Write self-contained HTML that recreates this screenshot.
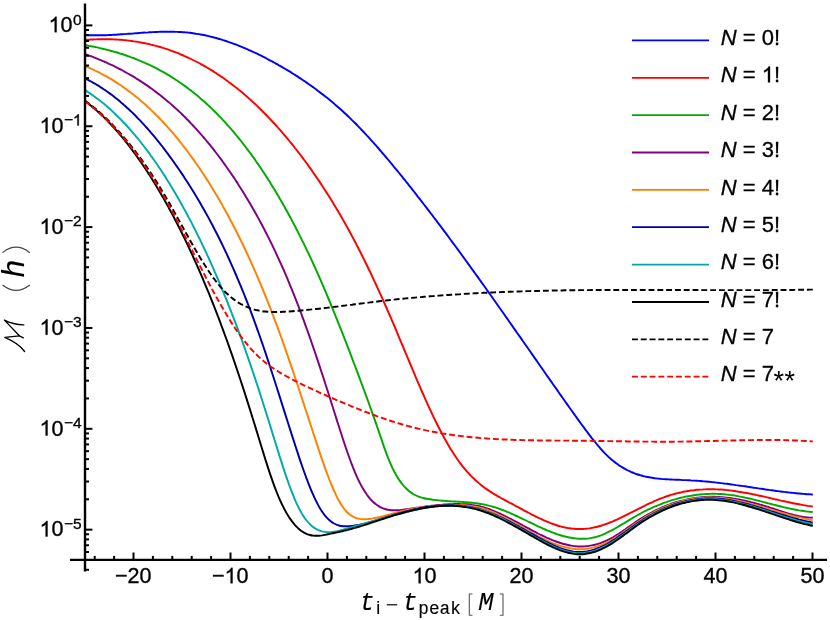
<!DOCTYPE html>
<html><head><meta charset="utf-8"><title>Mismatch</title>
<style>html,body{margin:0;padding:0;background:#fff;}svg{display:block;will-change:transform;}</style></head>
<body>
<svg width="830" height="620" viewBox="0 0 830 620">
<rect width="830" height="620" fill="#fff"/>
<g fill="none" stroke-width="1.95" stroke-linejoin="round">
<path d="M85.0,35.1C85.5,35.1 87.0,35.2 88.0,35.2C89.0,35.2 90.0,35.3 91.0,35.3C92.0,35.3 93.0,35.3 94.0,35.3C95.0,35.3 96.0,35.3 97.0,35.3C98.0,35.3 99.0,35.3 100.0,35.3C101.0,35.3 102.0,35.3 103.0,35.3C104.0,35.2 105.0,35.2 106.0,35.2C107.0,35.1 108.0,35.1 109.0,35.0C110.0,35.0 111.0,34.9 112.0,34.9C113.0,34.8 114.0,34.8 115.0,34.7C116.0,34.7 117.0,34.6 118.0,34.5C119.0,34.5 120.0,34.4 121.0,34.3C122.0,34.3 123.0,34.2 124.0,34.1C125.0,34.1 126.0,34.0 127.0,33.9C128.0,33.8 129.0,33.8 130.0,33.7C131.0,33.6 132.0,33.5 133.0,33.5C134.0,33.4 135.0,33.3 136.0,33.2C137.0,33.2 138.0,33.1 139.0,33.0C140.0,32.9 141.0,32.9 142.0,32.8C143.0,32.7 144.0,32.6 145.0,32.6C146.0,32.5 147.0,32.4 148.0,32.4C149.0,32.3 150.0,32.3 151.0,32.2C152.0,32.2 153.0,32.1 154.0,32.1C155.0,32.0 156.0,32.0 157.0,31.9C158.0,31.9 159.0,31.8 160.0,31.8C161.0,31.8 162.0,31.7 163.0,31.7C164.0,31.7 165.0,31.7 166.0,31.7C167.0,31.7 168.0,31.7 169.0,31.7C170.0,31.7 171.0,31.7 172.0,31.7C173.0,31.7 174.0,31.7 175.0,31.8C176.0,31.8 177.0,31.8 178.0,31.9C179.0,31.9 180.0,32.0 181.0,32.0C182.0,32.1 183.0,32.2 184.0,32.2C185.0,32.3 186.0,32.4 187.0,32.5C188.0,32.6 189.0,32.7 190.0,32.8C191.0,32.9 192.0,33.1 193.0,33.2C194.0,33.3 195.0,33.5 196.0,33.7C197.0,33.8 198.0,34.0 199.0,34.1C200.0,34.3 201.0,34.5 202.0,34.7C203.0,34.9 204.0,35.1 205.0,35.3C206.0,35.5 207.0,35.7 208.0,36.0C209.0,36.2 210.0,36.4 211.0,36.7C212.0,36.9 213.0,37.2 214.0,37.5C215.0,37.7 216.0,38.0 217.0,38.3C218.0,38.6 219.0,38.8 220.0,39.1C221.0,39.4 222.0,39.7 223.0,40.1C224.0,40.4 225.0,40.7 226.0,41.0C227.0,41.4 228.0,41.7 229.0,42.1C230.0,42.4 231.0,42.8 232.0,43.1C233.0,43.5 234.0,43.9 235.0,44.2C236.0,44.6 237.0,45.0 238.0,45.4C239.0,45.8 240.0,46.2 241.0,46.6C242.0,47.0 243.0,47.4 244.0,47.8C245.0,48.3 246.0,48.7 247.0,49.1C248.0,49.6 249.0,50.0 250.0,50.5C251.0,50.9 252.0,51.4 253.0,51.8C254.0,52.3 255.0,52.8 256.0,53.2C257.0,53.7 258.0,54.2 259.0,54.7C260.0,55.2 261.0,55.7 262.0,56.2C263.0,56.7 264.0,57.2 265.0,57.7C266.0,58.2 267.0,58.8 268.0,59.3C269.0,59.8 270.0,60.3 271.0,60.9C272.0,61.4 273.0,62.0 274.0,62.5C275.0,63.1 276.0,63.6 277.0,64.2C278.0,64.8 279.0,65.3 280.0,65.9C281.0,66.5 282.0,67.1 283.0,67.6C284.0,68.2 285.0,68.8 286.0,69.4C287.0,70.0 288.0,70.6 289.0,71.2C290.0,71.8 291.0,72.4 292.0,73.1C293.0,73.7 294.0,74.3 295.0,74.9C296.0,75.6 297.0,76.2 298.0,76.9C299.0,77.5 300.0,78.2 301.0,78.8C302.0,79.5 303.0,80.2 304.0,80.8C305.0,81.5 306.0,82.2 307.0,82.9C308.0,83.6 309.0,84.3 310.0,85.0C311.0,85.7 312.0,86.4 313.0,87.1C314.0,87.9 315.0,88.6 316.0,89.3C317.0,90.1 318.0,90.8 319.0,91.6C320.0,92.3 321.0,93.1 322.0,93.9C323.0,94.6 324.0,95.4 325.0,96.2C326.0,97.0 327.0,97.8 328.0,98.6C329.0,99.4 330.0,100.3 331.0,101.1C332.0,101.9 333.0,102.8 334.0,103.6C335.0,104.5 336.0,105.3 337.0,106.2C338.0,107.1 339.0,107.9 340.0,108.8C341.0,109.7 342.0,110.6 343.0,111.5C344.0,112.5 345.0,113.4 346.0,114.3C347.0,115.2 348.0,116.2 349.0,117.1C350.0,118.1 351.0,119.1 352.0,120.1C353.0,121.0 354.0,122.0 355.0,123.0C356.0,124.0 357.0,125.0 358.0,126.1C359.0,127.1 360.0,128.1 361.0,129.2C362.0,130.2 363.0,131.3 364.0,132.3C365.0,133.4 366.0,134.5 367.0,135.6C368.0,136.6 369.0,137.7 370.0,138.8C371.0,139.9 372.0,141.0 373.0,142.2C374.0,143.3 375.0,144.4 376.0,145.5C377.0,146.7 378.0,147.8 379.0,149.0C380.0,150.1 381.0,151.3 382.0,152.5C383.0,153.6 384.0,154.8 385.0,156.0C386.0,157.1 387.0,158.3 388.0,159.5C389.0,160.7 390.0,161.9 391.0,163.1C392.0,164.3 393.0,165.5 394.0,166.8C395.0,168.0 396.0,169.2 397.0,170.4C398.0,171.6 399.0,172.9 400.0,174.1C401.0,175.3 402.0,176.6 403.0,177.8C404.0,179.1 405.0,180.3 406.0,181.6C407.0,182.8 408.0,184.1 409.0,185.3C410.0,186.6 411.0,187.8 412.0,189.1C413.0,190.4 414.0,191.6 415.0,192.9C416.0,194.2 417.0,195.5 418.0,196.8C419.0,198.0 420.0,199.3 421.0,200.6C422.0,201.9 423.0,203.2 424.0,204.5C425.0,205.8 426.0,207.1 427.0,208.4C428.0,209.7 429.0,211.0 430.0,212.3C431.0,213.6 432.0,214.9 433.0,216.2C434.0,217.6 435.0,218.9 436.0,220.2C437.0,221.5 438.0,222.9 439.0,224.2C440.0,225.5 441.0,226.8 442.0,228.2C443.0,229.5 444.0,230.9 445.0,232.2C446.0,233.5 447.0,234.9 448.0,236.2C449.0,237.6 450.0,238.9 451.0,240.3C452.0,241.6 453.0,243.0 454.0,244.3C455.0,245.7 456.0,247.1 457.0,248.4C458.0,249.8 459.0,251.2 460.0,252.5C461.0,253.9 462.0,255.3 463.0,256.6C464.0,258.0 465.0,259.4 466.0,260.8C467.0,262.2 468.0,263.5 469.0,264.9C470.0,266.3 471.0,267.7 472.0,269.1C473.0,270.5 474.0,271.8 475.0,273.2C476.0,274.6 477.0,276.0 478.0,277.4C479.0,278.8 480.0,280.2 481.0,281.6C482.0,283.0 483.0,284.4 484.0,285.8C485.0,287.2 486.0,288.6 487.0,290.0C488.0,291.4 489.0,292.9 490.0,294.3C491.0,295.7 492.0,297.1 493.0,298.5C494.0,299.9 495.0,301.3 496.0,302.7C497.0,304.2 498.0,305.6 499.0,307.0C500.0,308.4 501.0,309.8 502.0,311.3C503.0,312.7 504.0,314.1 505.0,315.5C506.0,316.9 507.0,318.4 508.0,319.8C509.0,321.2 510.0,322.7 511.0,324.1C512.0,325.5 513.0,326.9 514.0,328.4C515.0,329.8 516.0,331.2 517.0,332.7C518.0,334.1 519.0,335.5 520.0,336.9C521.0,338.4 522.0,339.8 523.0,341.2C524.0,342.7 525.0,344.1 526.0,345.5C527.0,347.0 528.0,348.4 529.0,349.8C530.0,351.3 531.0,352.7 532.0,354.1C533.0,355.6 534.0,357.0 535.0,358.4C536.0,359.9 537.0,361.3 538.0,362.7C539.0,364.2 540.0,365.6 541.0,367.0C542.0,368.5 543.0,369.9 544.0,371.3C545.0,372.7 546.0,374.2 547.0,375.6C548.0,377.0 549.0,378.5 550.0,379.9C551.0,381.3 552.0,382.7 553.0,384.2C554.0,385.6 555.0,387.0 556.0,388.4C557.0,389.9 558.0,391.3 559.0,392.7C560.0,394.1 561.0,395.6 562.0,397.0C563.0,398.4 564.0,399.8 565.0,401.2C566.0,402.6 567.0,404.1 568.0,405.5C569.0,406.9 570.0,408.3 571.0,409.7C572.0,411.1 573.0,412.5 574.0,413.9C575.0,415.3 576.0,416.7 577.0,418.1C578.0,419.5 579.0,420.9 580.0,422.2C581.0,423.6 582.0,425.0 583.0,426.3C584.0,427.7 585.0,429.0 586.0,430.4C587.0,431.7 588.0,433.1 589.0,434.4C590.0,435.7 591.0,437.0 592.0,438.3C593.0,439.5 594.0,440.8 595.0,442.0C596.0,443.3 597.0,444.5 598.0,445.7C599.0,446.8 600.0,448.0 601.0,449.1C602.0,450.2 603.0,451.3 604.0,452.4C605.0,453.4 606.0,454.5 607.0,455.4C608.0,456.4 609.0,457.3 610.0,458.2C611.0,459.1 612.0,460.0 613.0,460.8C614.0,461.6 615.0,462.4 616.0,463.1C617.0,463.9 618.0,464.6 619.0,465.3C620.0,465.9 621.0,466.6 622.0,467.2C623.0,467.8 624.0,468.4 625.0,468.9C626.0,469.5 627.0,470.0 628.0,470.5C629.0,471.0 630.0,471.4 631.0,471.9C632.0,472.3 633.0,472.7 634.0,473.1C635.0,473.5 636.0,473.9 637.0,474.2C638.0,474.5 639.0,474.9 640.0,475.1C641.0,475.4 642.0,475.7 643.0,476.0C644.0,476.2 645.0,476.5 646.0,476.7C647.0,476.9 648.0,477.1 649.0,477.3C650.0,477.5 651.0,477.7 652.0,477.8C653.0,478.0 654.0,478.1 655.0,478.3C656.0,478.4 657.0,478.5 658.0,478.6C659.0,478.7 660.0,478.8 661.0,478.9C662.0,479.0 663.0,479.1 664.0,479.1C665.0,479.2 666.0,479.3 667.0,479.3C668.0,479.4 669.0,479.4 670.0,479.5C671.0,479.5 672.0,479.6 673.0,479.6C674.0,479.7 675.0,479.7 676.0,479.7C677.0,479.8 678.0,479.8 679.0,479.8C680.0,479.9 681.0,479.9 682.0,480.0C683.0,480.0 684.0,480.0 685.0,480.1C686.0,480.1 687.0,480.2 688.0,480.2C689.0,480.3 690.0,480.3 691.0,480.4C692.0,480.4 693.0,480.5 694.0,480.6C695.0,480.6 696.0,480.7 697.0,480.8C698.0,480.9 699.0,480.9 700.0,481.0C701.0,481.1 702.0,481.2 703.0,481.3C704.0,481.3 705.0,481.4 706.0,481.5C707.0,481.6 708.0,481.7 709.0,481.8C710.0,481.9 711.0,482.0 712.0,482.1C713.0,482.2 714.0,482.3 715.0,482.4C716.0,482.5 717.0,482.6 718.0,482.8C719.0,482.9 720.0,483.0 721.0,483.1C722.0,483.2 723.0,483.3 724.0,483.5C725.0,483.6 726.0,483.7 727.0,483.8C728.0,484.0 729.0,484.1 730.0,484.2C731.0,484.4 732.0,484.5 733.0,484.6C734.0,484.8 735.0,484.9 736.0,485.1C737.0,485.2 738.0,485.3 739.0,485.5C740.0,485.6 741.0,485.8 742.0,485.9C743.0,486.1 744.0,486.2 745.0,486.3C746.0,486.5 747.0,486.6 748.0,486.8C749.0,486.9 750.0,487.1 751.0,487.2C752.0,487.4 753.0,487.5 754.0,487.7C755.0,487.8 756.0,488.0 757.0,488.1C758.0,488.3 759.0,488.4 760.0,488.6C761.0,488.7 762.0,488.9 763.0,489.0C764.0,489.2 765.0,489.3 766.0,489.5C767.0,489.6 768.0,489.8 769.0,489.9C770.0,490.0 771.0,490.2 772.0,490.3C773.0,490.5 774.0,490.6 775.0,490.7C776.0,490.9 777.0,491.0 778.0,491.1C779.0,491.3 780.0,491.4 781.0,491.5C782.0,491.7 783.0,491.8 784.0,491.9C785.0,492.0 786.0,492.2 787.0,492.3C788.0,492.4 789.0,492.5 790.0,492.6C791.0,492.7 792.0,492.8 793.0,492.9C794.0,493.0 795.0,493.1 796.0,493.2C797.0,493.3 798.0,493.4 799.0,493.5C800.0,493.6 801.0,493.7 802.0,493.8C803.0,493.9 804.0,493.9 805.0,494.0C806.0,494.1 807.0,494.2 808.0,494.2C809.0,494.3 810.2,494.3 811.0,494.4C811.8,494.4 812.5,494.5 812.8,494.5" stroke="#0000ff"/>
<path d="M85.0,40.0C85.5,39.9 87.0,39.8 88.0,39.7C89.0,39.7 90.0,39.6 91.0,39.5C92.0,39.5 93.0,39.4 94.0,39.4C95.0,39.3 96.0,39.3 97.0,39.3C98.0,39.2 99.0,39.2 100.0,39.2C101.0,39.2 102.0,39.2 103.0,39.2C104.0,39.2 105.0,39.2 106.0,39.2C107.0,39.2 108.0,39.2 109.0,39.2C110.0,39.2 111.0,39.3 112.0,39.3C113.0,39.3 114.0,39.4 115.0,39.4C116.0,39.5 117.0,39.5 118.0,39.6C119.0,39.7 120.0,39.8 121.0,39.8C122.0,39.9 123.0,40.0 124.0,40.1C125.0,40.2 126.0,40.3 127.0,40.4C128.0,40.5 129.0,40.6 130.0,40.8C131.0,40.9 132.0,41.0 133.0,41.2C134.0,41.3 135.0,41.5 136.0,41.6C137.0,41.8 138.0,42.0 139.0,42.1C140.0,42.3 141.0,42.5 142.0,42.7C143.0,42.9 144.0,43.1 145.0,43.3C146.0,43.5 147.0,43.7 148.0,43.9C149.0,44.2 150.0,44.4 151.0,44.6C152.0,44.9 153.0,45.1 154.0,45.4C155.0,45.6 156.0,45.9 157.0,46.2C158.0,46.4 159.0,46.7 160.0,47.0C161.0,47.3 162.0,47.6 163.0,47.9C164.0,48.2 165.0,48.6 166.0,48.9C167.0,49.2 168.0,49.5 169.0,49.9C170.0,50.2 171.0,50.6 172.0,51.0C173.0,51.3 174.0,51.7 175.0,52.1C176.0,52.5 177.0,52.8 178.0,53.2C179.0,53.6 180.0,54.1 181.0,54.5C182.0,54.9 183.0,55.3 184.0,55.8C185.0,56.2 186.0,56.6 187.0,57.1C188.0,57.6 189.0,58.0 190.0,58.5C191.0,59.0 192.0,59.5 193.0,60.0C194.0,60.5 195.0,61.0 196.0,61.5C197.0,62.0 198.0,62.5 199.0,63.0C200.0,63.6 201.0,64.1 202.0,64.7C203.0,65.2 204.0,65.8 205.0,66.4C206.0,67.0 207.0,67.5 208.0,68.1C209.0,68.7 210.0,69.3 211.0,69.9C212.0,70.6 213.0,71.2 214.0,71.8C215.0,72.5 216.0,73.1 217.0,73.8C218.0,74.4 219.0,75.1 220.0,75.8C221.0,76.4 222.0,77.1 223.0,77.8C224.0,78.5 225.0,79.2 226.0,80.0C227.0,80.7 228.0,81.4 229.0,82.2C230.0,82.9 231.0,83.7 232.0,84.4C233.0,85.2 234.0,86.0 235.0,86.8C236.0,87.5 237.0,88.3 238.0,89.1C239.0,90.0 240.0,90.8 241.0,91.6C242.0,92.4 243.0,93.3 244.0,94.1C245.0,95.0 246.0,95.9 247.0,96.7C248.0,97.6 249.0,98.5 250.0,99.4C251.0,100.3 252.0,101.2 253.0,102.1C254.0,103.0 255.0,104.0 256.0,104.9C257.0,105.9 258.0,106.8 259.0,107.8C260.0,108.8 261.0,109.8 262.0,110.7C263.0,111.7 264.0,112.7 265.0,113.8C266.0,114.8 267.0,115.8 268.0,116.8C269.0,117.9 270.0,118.9 271.0,120.0C272.0,121.1 273.0,122.2 274.0,123.2C275.0,124.3 276.0,125.4 277.0,126.5C278.0,127.7 279.0,128.8 280.0,129.9C281.0,131.1 282.0,132.2 283.0,133.4C284.0,134.5 285.0,135.7 286.0,136.9C287.0,138.1 288.0,139.3 289.0,140.5C290.0,141.7 291.0,143.0 292.0,144.2C293.0,145.4 294.0,146.7 295.0,148.0C296.0,149.2 297.0,150.5 298.0,151.8C299.0,153.1 300.0,154.4 301.0,155.7C302.0,157.0 303.0,158.4 304.0,159.7C305.0,161.1 306.0,162.4 307.0,163.8C308.0,165.2 309.0,166.5 310.0,167.9C311.0,169.4 312.0,170.8 313.0,172.2C314.0,173.6 315.0,175.1 316.0,176.5C317.0,178.0 318.0,179.5 319.0,180.9C320.0,182.4 321.0,183.9 322.0,185.5C323.0,187.0 324.0,188.5 325.0,190.1C326.0,191.6 327.0,193.2 328.0,194.8C329.0,196.4 330.0,198.0 331.0,199.6C332.0,201.2 333.0,202.8 334.0,204.5C335.0,206.1 336.0,207.8 337.0,209.5C338.0,211.2 339.0,212.9 340.0,214.6C341.0,216.3 342.0,218.0 343.0,219.8C344.0,221.5 345.0,223.3 346.0,225.1C347.0,226.9 348.0,228.7 349.0,230.5C350.0,232.4 351.0,234.2 352.0,236.1C353.0,237.9 354.0,239.8 355.0,241.7C356.0,243.6 357.0,245.6 358.0,247.5C359.0,249.4 360.0,251.4 361.0,253.4C362.0,255.4 363.0,257.4 364.0,259.4C365.0,261.4 366.0,263.5 367.0,265.5C368.0,267.6 369.0,269.7 370.0,271.7C371.0,273.8 372.0,276.0 373.0,278.1C374.0,280.2 375.0,282.4 376.0,284.5C377.0,286.7 378.0,288.9 379.0,291.1C380.0,293.3 381.0,295.5 382.0,297.7C383.0,300.0 384.0,302.2 385.0,304.5C386.0,306.7 387.0,309.0 388.0,311.3C389.0,313.6 390.0,315.9 391.0,318.2C392.0,320.6 393.0,322.9 394.0,325.2C395.0,327.6 396.0,329.9 397.0,332.3C398.0,334.7 399.0,337.1 400.0,339.5C401.0,341.9 402.0,344.2 403.0,346.6C404.0,349.0 405.0,351.4 406.0,353.8C407.0,356.2 408.0,358.7 409.0,361.0C410.0,363.4 411.0,365.8 412.0,368.2C413.0,370.6 414.0,373.0 415.0,375.3C416.0,377.7 417.0,380.1 418.0,382.4C419.0,384.7 420.0,387.0 421.0,389.3C422.0,391.6 423.0,393.9 424.0,396.2C425.0,398.4 426.0,400.7 427.0,402.9C428.0,405.1 429.0,407.3 430.0,409.4C431.0,411.6 432.0,413.7 433.0,415.8C434.0,417.9 435.0,420.0 436.0,422.0C437.0,424.0 438.0,426.0 439.0,428.0C440.0,429.9 441.0,431.8 442.0,433.7C443.0,435.6 444.0,437.5 445.0,439.3C446.0,441.1 447.0,442.8 448.0,444.5C449.0,446.3 450.0,447.9 451.0,449.6C452.0,451.2 453.0,452.8 454.0,454.3C455.0,455.9 456.0,457.3 457.0,458.8C458.0,460.2 459.0,461.6 460.0,462.9C461.0,464.3 462.0,465.6 463.0,466.8C464.0,468.1 465.0,469.2 466.0,470.4C467.0,471.6 468.0,472.7 469.0,473.7C470.0,474.8 471.0,475.9 472.0,476.9C473.0,477.8 474.0,478.8 475.0,479.7C476.0,480.7 477.0,481.5 478.0,482.4C479.0,483.3 480.0,484.1 481.0,484.9C482.0,485.7 483.0,486.5 484.0,487.2C485.0,488.0 486.0,488.7 487.0,489.4C488.0,490.1 489.0,490.8 490.0,491.4C491.0,492.1 492.0,492.7 493.0,493.4C494.0,494.0 495.0,494.6 496.0,495.2C497.0,495.8 498.0,496.3 499.0,496.9C500.0,497.5 501.0,498.0 502.0,498.6C503.0,499.1 504.0,499.7 505.0,500.2C506.0,500.8 507.0,501.3 508.0,501.8C509.0,502.4 510.0,502.9 511.0,503.4C512.0,503.9 513.0,504.5 514.0,505.0C515.0,505.5 516.0,506.1 517.0,506.6C518.0,507.1 519.0,507.7 520.0,508.2C521.0,508.8 522.0,509.3 523.0,509.8C524.0,510.4 525.0,510.9 526.0,511.4C527.0,512.0 528.0,512.5 529.0,513.0C530.0,513.5 531.0,514.1 532.0,514.6C533.0,515.1 534.0,515.6 535.0,516.1C536.0,516.6 537.0,517.1 538.0,517.6C539.0,518.0 540.0,518.5 541.0,519.0C542.0,519.4 543.0,519.9 544.0,520.3C545.0,520.8 546.0,521.2 547.0,521.6C548.0,522.1 549.0,522.5 550.0,522.9C551.0,523.2 552.0,523.6 553.0,524.0C554.0,524.3 555.0,524.7 556.0,525.0C557.0,525.4 558.0,525.7 559.0,526.0C560.0,526.3 561.0,526.5 562.0,526.8C563.0,527.0 564.0,527.3 565.0,527.5C566.0,527.7 567.0,527.9 568.0,528.1C569.0,528.2 570.0,528.4 571.0,528.5C572.0,528.6 573.0,528.7 574.0,528.8C575.0,528.9 576.0,529.0 577.0,529.0C578.0,529.0 579.0,529.1 580.0,529.0C581.0,529.0 582.0,529.0 583.0,529.0C584.0,528.9 585.0,528.8 586.0,528.7C587.0,528.6 588.0,528.5 589.0,528.4C590.0,528.2 591.0,528.1 592.0,527.9C593.0,527.7 594.0,527.5 595.0,527.3C596.0,527.1 597.0,526.8 598.0,526.5C599.0,526.3 600.0,526.0 601.0,525.7C602.0,525.4 603.0,525.1 604.0,524.7C605.0,524.4 606.0,524.0 607.0,523.7C608.0,523.3 609.0,522.9 610.0,522.5C611.0,522.1 612.0,521.7 613.0,521.3C614.0,520.8 615.0,520.4 616.0,520.0C617.0,519.5 618.0,519.1 619.0,518.6C620.0,518.1 621.0,517.7 622.0,517.2C623.0,516.7 624.0,516.2 625.0,515.7C626.0,515.2 627.0,514.7 628.0,514.2C629.0,513.7 630.0,513.2 631.0,512.7C632.0,512.2 633.0,511.7 634.0,511.2C635.0,510.7 636.0,510.2 637.0,509.7C638.0,509.2 639.0,508.6 640.0,508.1C641.0,507.6 642.0,507.1 643.0,506.6C644.0,506.1 645.0,505.6 646.0,505.1C647.0,504.7 648.0,504.2 649.0,503.7C650.0,503.2 651.0,502.7 652.0,502.3C653.0,501.8 654.0,501.4 655.0,500.9C656.0,500.5 657.0,500.1 658.0,499.6C659.0,499.2 660.0,498.8 661.0,498.4C662.0,498.0 663.0,497.7 664.0,497.3C665.0,496.9 666.0,496.6 667.0,496.2C668.0,495.9 669.0,495.6 670.0,495.3C671.0,494.9 672.0,494.7 673.0,494.4C674.0,494.1 675.0,493.8 676.0,493.5C677.0,493.3 678.0,493.0 679.0,492.8C680.0,492.6 681.0,492.3 682.0,492.1C683.0,491.9 684.0,491.7 685.0,491.5C686.0,491.3 687.0,491.2 688.0,491.0C689.0,490.8 690.0,490.7 691.0,490.5C692.0,490.4 693.0,490.3 694.0,490.2C695.0,490.0 696.0,489.9 697.0,489.8C698.0,489.7 699.0,489.7 700.0,489.6C701.0,489.5 702.0,489.4 703.0,489.4C704.0,489.3 705.0,489.3 706.0,489.3C707.0,489.2 708.0,489.2 709.0,489.2C710.0,489.2 711.0,489.2 712.0,489.2C713.0,489.2 714.0,489.2 715.0,489.3C716.0,489.3 717.0,489.3 718.0,489.4C719.0,489.4 720.0,489.5 721.0,489.5C722.0,489.6 723.0,489.7 724.0,489.8C725.0,489.9 726.0,489.9 727.0,490.1C728.0,490.2 729.0,490.3 730.0,490.4C731.0,490.5 732.0,490.6 733.0,490.8C734.0,490.9 735.0,491.0 736.0,491.2C737.0,491.3 738.0,491.5 739.0,491.7C740.0,491.8 741.0,492.0 742.0,492.2C743.0,492.3 744.0,492.5 745.0,492.7C746.0,492.9 747.0,493.1 748.0,493.3C749.0,493.5 750.0,493.7 751.0,493.9C752.0,494.1 753.0,494.3 754.0,494.5C755.0,494.7 756.0,494.9 757.0,495.1C758.0,495.3 759.0,495.6 760.0,495.8C761.0,496.0 762.0,496.2 763.0,496.4C764.0,496.7 765.0,496.9 766.0,497.1C767.0,497.4 768.0,497.6 769.0,497.8C770.0,498.0 771.0,498.3 772.0,498.5C773.0,498.7 774.0,499.0 775.0,499.2C776.0,499.4 777.0,499.7 778.0,499.9C779.0,500.1 780.0,500.3 781.0,500.6C782.0,500.8 783.0,501.0 784.0,501.2C785.0,501.5 786.0,501.7 787.0,501.9C788.0,502.1 789.0,502.3 790.0,502.5C791.0,502.8 792.0,503.0 793.0,503.2C794.0,503.4 795.0,503.6 796.0,503.8C797.0,504.0 798.0,504.2 799.0,504.3C800.0,504.5 801.0,504.7 802.0,504.9C803.0,505.1 804.0,505.2 805.0,505.4C806.0,505.6 807.0,505.7 808.0,505.9C809.0,506.0 810.2,506.2 811.0,506.3C811.8,506.4 812.5,506.5 812.8,506.5" stroke="#ff0000"/>
<path d="M85.0,45.1C85.5,45.2 87.0,45.4 88.0,45.6C89.0,45.8 90.0,46.0 91.0,46.2C92.0,46.4 93.0,46.6 94.0,46.8C95.0,47.0 96.0,47.2 97.0,47.4C98.0,47.7 99.0,47.9 100.0,48.1C101.0,48.3 102.0,48.6 103.0,48.8C104.0,49.0 105.0,49.3 106.0,49.5C107.0,49.8 108.0,50.0 109.0,50.3C110.0,50.6 111.0,50.8 112.0,51.1C113.0,51.4 114.0,51.7 115.0,52.0C116.0,52.2 117.0,52.5 118.0,52.8C119.0,53.1 120.0,53.5 121.0,53.8C122.0,54.1 123.0,54.4 124.0,54.7C125.0,55.1 126.0,55.4 127.0,55.8C128.0,56.1 129.0,56.5 130.0,56.8C131.0,57.2 132.0,57.6 133.0,57.9C134.0,58.3 135.0,58.7 136.0,59.1C137.0,59.5 138.0,59.9 139.0,60.3C140.0,60.7 141.0,61.1 142.0,61.6C143.0,62.0 144.0,62.4 145.0,62.9C146.0,63.3 147.0,63.8 148.0,64.2C149.0,64.7 150.0,65.2 151.0,65.7C152.0,66.2 153.0,66.6 154.0,67.1C155.0,67.6 156.0,68.2 157.0,68.7C158.0,69.2 159.0,69.7 160.0,70.3C161.0,70.8 162.0,71.4 163.0,71.9C164.0,72.5 165.0,73.1 166.0,73.7C167.0,74.2 168.0,74.8 169.0,75.4C170.0,76.1 171.0,76.7 172.0,77.3C173.0,77.9 174.0,78.6 175.0,79.2C176.0,79.9 177.0,80.5 178.0,81.2C179.0,81.9 180.0,82.6 181.0,83.3C182.0,84.0 183.0,84.7 184.0,85.4C185.0,86.1 186.0,86.8 187.0,87.6C188.0,88.3 189.0,89.1 190.0,89.8C191.0,90.6 192.0,91.4 193.0,92.2C194.0,93.0 195.0,93.8 196.0,94.6C197.0,95.4 198.0,96.3 199.0,97.1C200.0,98.0 201.0,98.8 202.0,99.7C203.0,100.6 204.0,101.4 205.0,102.3C206.0,103.2 207.0,104.2 208.0,105.1C209.0,106.0 210.0,107.0 211.0,107.9C212.0,108.9 213.0,109.8 214.0,110.8C215.0,111.8 216.0,112.8 217.0,113.8C218.0,114.8 219.0,115.9 220.0,116.9C221.0,117.9 222.0,119.0 223.0,120.1C224.0,121.1 225.0,122.2 226.0,123.3C227.0,124.4 228.0,125.5 229.0,126.7C230.0,127.8 231.0,129.0 232.0,130.1C233.0,131.3 234.0,132.5 235.0,133.7C236.0,134.9 237.0,136.1 238.0,137.3C239.0,138.5 240.0,139.8 241.0,141.0C242.0,142.3 243.0,143.6 244.0,144.9C245.0,146.1 246.0,147.5 247.0,148.8C248.0,150.1 249.0,151.4 250.0,152.8C251.0,154.2 252.0,155.5 253.0,156.9C254.0,158.3 255.0,159.7 256.0,161.2C257.0,162.6 258.0,164.1 259.0,165.5C260.0,167.0 261.0,168.5 262.0,170.0C263.0,171.5 264.0,173.0 265.0,174.5C266.0,176.1 267.0,177.6 268.0,179.2C269.0,180.8 270.0,182.3 271.0,184.0C272.0,185.6 273.0,187.2 274.0,188.8C275.0,190.5 276.0,192.2 277.0,193.8C278.0,195.5 279.0,197.2 280.0,199.0C281.0,200.7 282.0,202.4 283.0,204.2C284.0,206.0 285.0,207.7 286.0,209.5C287.0,211.3 288.0,213.2 289.0,215.0C290.0,216.9 291.0,218.7 292.0,220.6C293.0,222.5 294.0,224.4 295.0,226.3C296.0,228.2 297.0,230.2 298.0,232.1C299.0,234.1 300.0,236.1 301.0,238.1C302.0,240.1 303.0,242.1 304.0,244.2C305.0,246.2 306.0,248.3 307.0,250.4C308.0,252.5 309.0,254.6 310.0,256.7C311.0,258.9 312.0,261.0 313.0,263.2C314.0,265.4 315.0,267.6 316.0,269.8C317.0,272.0 318.0,274.3 319.0,276.5C320.0,278.8 321.0,281.1 322.0,283.4C323.0,285.7 324.0,288.0 325.0,290.4C326.0,292.8 327.0,295.1 328.0,297.5C329.0,299.9 330.0,302.3 331.0,304.8C332.0,307.2 333.0,309.6 334.0,312.1C335.0,314.6 336.0,317.1 337.0,319.6C338.0,322.1 339.0,324.6 340.0,327.1C341.0,329.6 342.0,332.2 343.0,334.7C344.0,337.3 345.0,339.9 346.0,342.4C347.0,345.0 348.0,347.6 349.0,350.2C350.0,352.8 351.0,355.5 352.0,358.1C353.0,360.7 354.0,363.3 355.0,366.0C356.0,368.6 357.0,371.3 358.0,373.9C359.0,376.6 360.0,379.3 361.0,382.0C362.0,384.6 363.0,387.3 364.0,390.0C365.0,392.7 366.0,395.5 367.0,398.2C368.0,400.9 369.0,403.7 370.0,406.5C371.0,409.3 372.0,412.1 373.0,414.9C374.0,417.7 375.0,420.5 376.0,423.4C377.0,426.3 378.0,429.2 379.0,432.1C380.0,435.0 381.0,438.0 382.0,440.9C383.0,443.8 384.0,446.8 385.0,449.6C386.0,452.4 387.0,455.1 388.0,457.7C389.0,460.2 390.0,462.6 391.0,464.8C392.0,467.0 393.0,469.1 394.0,471.0C395.0,473.0 396.0,474.8 397.0,476.4C398.0,478.1 399.0,479.7 400.0,481.1C401.0,482.5 402.0,483.8 403.0,485.0C404.0,486.2 405.0,487.3 406.0,488.3C407.0,489.3 408.0,490.2 409.0,491.0C410.0,491.8 411.0,492.6 412.0,493.2C413.0,493.9 414.0,494.5 415.0,495.0C416.0,495.5 417.0,496.0 418.0,496.4C419.0,496.8 420.0,497.1 421.0,497.4C422.0,497.7 423.0,498.0 424.0,498.2C425.0,498.5 426.0,498.7 427.0,498.8C428.0,499.0 429.0,499.2 430.0,499.3C431.0,499.5 432.0,499.6 433.0,499.8C434.0,499.9 435.0,500.0 436.0,500.1C437.0,500.2 438.0,500.3 439.0,500.4C440.0,500.5 441.0,500.6 442.0,500.7C443.0,500.8 444.0,500.8 445.0,500.9C446.0,501.0 447.0,501.0 448.0,501.1C449.0,501.2 450.0,501.2 451.0,501.3C452.0,501.3 453.0,501.4 454.0,501.5C455.0,501.5 456.0,501.6 457.0,501.6C458.0,501.7 459.0,501.7 460.0,501.8C461.0,501.9 462.0,501.9 463.0,502.0C464.0,502.1 465.0,502.1 466.0,502.2C467.0,502.3 468.0,502.4 469.0,502.5C470.0,502.6 471.0,502.7 472.0,502.8C473.0,502.9 474.0,503.0 475.0,503.1C476.0,503.2 477.0,503.4 478.0,503.5C479.0,503.7 480.0,503.8 481.0,504.0C482.0,504.1 483.0,504.3 484.0,504.5C485.0,504.7 486.0,504.9 487.0,505.2C488.0,505.4 489.0,505.6 490.0,505.9C491.0,506.1 492.0,506.4 493.0,506.7C494.0,507.0 495.0,507.3 496.0,507.6C497.0,508.0 498.0,508.3 499.0,508.7C500.0,509.0 501.0,509.4 502.0,509.8C503.0,510.1 504.0,510.5 505.0,510.9C506.0,511.3 507.0,511.8 508.0,512.2C509.0,512.6 510.0,513.0 511.0,513.5C512.0,513.9 513.0,514.4 514.0,514.8C515.0,515.3 516.0,515.7 517.0,516.2C518.0,516.7 519.0,517.1 520.0,517.6C521.0,518.1 522.0,518.6 523.0,519.1C524.0,519.5 525.0,520.0 526.0,520.5C527.0,521.0 528.0,521.5 529.0,522.0C530.0,522.4 531.0,522.9 532.0,523.4C533.0,523.9 534.0,524.4 535.0,524.8C536.0,525.3 537.0,525.8 538.0,526.3C539.0,526.7 540.0,527.2 541.0,527.6C542.0,528.1 543.0,528.5 544.0,529.0C545.0,529.4 546.0,529.8 547.0,530.3C548.0,530.7 549.0,531.1 550.0,531.5C551.0,531.9 552.0,532.3 553.0,532.7C554.0,533.1 555.0,533.4 556.0,533.8C557.0,534.1 558.0,534.5 559.0,534.8C560.0,535.1 561.0,535.4 562.0,535.7C563.0,536.0 564.0,536.3 565.0,536.5C566.0,536.8 567.0,537.0 568.0,537.2C569.0,537.4 570.0,537.6 571.0,537.8C572.0,538.0 573.0,538.2 574.0,538.3C575.0,538.4 576.0,538.5 577.0,538.6C578.0,538.7 579.0,538.8 580.0,538.8C581.0,538.8 582.0,538.8 583.0,538.8C584.0,538.8 585.0,538.8 586.0,538.7C587.0,538.6 588.0,538.5 589.0,538.4C590.0,538.2 591.0,538.1 592.0,537.9C593.0,537.7 594.0,537.5 595.0,537.2C596.0,537.0 597.0,536.7 598.0,536.3C599.0,536.0 600.0,535.7 601.0,535.3C602.0,534.9 603.0,534.5 604.0,534.1C605.0,533.6 606.0,533.2 607.0,532.7C608.0,532.2 609.0,531.7 610.0,531.2C611.0,530.7 612.0,530.2 613.0,529.6C614.0,529.1 615.0,528.5 616.0,528.0C617.0,527.4 618.0,526.8 619.0,526.2C620.0,525.6 621.0,525.0 622.0,524.4C623.0,523.8 624.0,523.2 625.0,522.6C626.0,522.0 627.0,521.4 628.0,520.8C629.0,520.2 630.0,519.6 631.0,519.0C632.0,518.4 633.0,517.8 634.0,517.2C635.0,516.6 636.0,516.0 637.0,515.5C638.0,514.9 639.0,514.4 640.0,513.8C641.0,513.3 642.0,512.7 643.0,512.2C644.0,511.7 645.0,511.2 646.0,510.7C647.0,510.2 648.0,509.7 649.0,509.2C650.0,508.8 651.0,508.3 652.0,507.9C653.0,507.4 654.0,507.0 655.0,506.5C656.0,506.1 657.0,505.7 658.0,505.3C659.0,504.9 660.0,504.5 661.0,504.1C662.0,503.7 663.0,503.3 664.0,502.9C665.0,502.6 666.0,502.2 667.0,501.9C668.0,501.5 669.0,501.2 670.0,500.9C671.0,500.5 672.0,500.2 673.0,499.9C674.0,499.6 675.0,499.3 676.0,499.1C677.0,498.8 678.0,498.5 679.0,498.3C680.0,498.0 681.0,497.7 682.0,497.5C683.0,497.3 684.0,497.0 685.0,496.8C686.0,496.6 687.0,496.4 688.0,496.2C689.0,496.0 690.0,495.9 691.0,495.7C692.0,495.5 693.0,495.4 694.0,495.2C695.0,495.1 696.0,494.9 697.0,494.8C698.0,494.7 699.0,494.6 700.0,494.5C701.0,494.4 702.0,494.3 703.0,494.2C704.0,494.1 705.0,494.1 706.0,494.0C707.0,493.9 708.0,493.9 709.0,493.9C710.0,493.8 711.0,493.8 712.0,493.8C713.0,493.8 714.0,493.8 715.0,493.8C716.0,493.8 717.0,493.9 718.0,493.9C719.0,493.9 720.0,494.0 721.0,494.0C722.0,494.1 723.0,494.2 724.0,494.3C725.0,494.4 726.0,494.5 727.0,494.6C728.0,494.7 729.0,494.8 730.0,494.9C731.0,495.1 732.0,495.2 733.0,495.3C734.0,495.5 735.0,495.7 736.0,495.8C737.0,496.0 738.0,496.2 739.0,496.4C740.0,496.5 741.0,496.7 742.0,496.9C743.0,497.1 744.0,497.4 745.0,497.6C746.0,497.8 747.0,498.0 748.0,498.2C749.0,498.5 750.0,498.7 751.0,498.9C752.0,499.2 753.0,499.4 754.0,499.6C755.0,499.9 756.0,500.1 757.0,500.4C758.0,500.6 759.0,500.9 760.0,501.1C761.0,501.4 762.0,501.7 763.0,501.9C764.0,502.2 765.0,502.4 766.0,502.7C767.0,503.0 768.0,503.2 769.0,503.5C770.0,503.7 771.0,504.0 772.0,504.3C773.0,504.5 774.0,504.8 775.0,505.0C776.0,505.3 777.0,505.6 778.0,505.8C779.0,506.1 780.0,506.3 781.0,506.5C782.0,506.8 783.0,507.0 784.0,507.3C785.0,507.5 786.0,507.7 787.0,508.0C788.0,508.2 789.0,508.4 790.0,508.6C791.0,508.8 792.0,509.0 793.0,509.2C794.0,509.4 795.0,509.6 796.0,509.8C797.0,510.0 798.0,510.2 799.0,510.4C800.0,510.5 801.0,510.7 802.0,510.8C803.0,511.0 804.0,511.1 805.0,511.3C806.0,511.4 807.0,511.5 808.0,511.6C809.0,511.7 810.2,511.8 811.0,511.9C811.8,512.0 812.5,512.0 812.8,512.1" stroke="#00aa00"/>
<path d="M85.0,54.0C85.5,54.2 87.0,54.8 88.0,55.1C89.0,55.5 90.0,55.9 91.0,56.2C92.0,56.6 93.0,57.0 94.0,57.4C95.0,57.8 96.0,58.2 97.0,58.6C98.0,59.0 99.0,59.4 100.0,59.8C101.0,60.2 102.0,60.7 103.0,61.1C104.0,61.5 105.0,62.0 106.0,62.4C107.0,62.9 108.0,63.3 109.0,63.8C110.0,64.2 111.0,64.7 112.0,65.2C113.0,65.7 114.0,66.2 115.0,66.6C116.0,67.1 117.0,67.6 118.0,68.1C119.0,68.7 120.0,69.2 121.0,69.7C122.0,70.2 123.0,70.8 124.0,71.3C125.0,71.8 126.0,72.4 127.0,73.0C128.0,73.5 129.0,74.1 130.0,74.7C131.0,75.2 132.0,75.8 133.0,76.4C134.0,77.0 135.0,77.6 136.0,78.3C137.0,78.9 138.0,79.5 139.0,80.1C140.0,80.8 141.0,81.4 142.0,82.1C143.0,82.7 144.0,83.4 145.0,84.1C146.0,84.8 147.0,85.4 148.0,86.1C149.0,86.8 150.0,87.5 151.0,88.3C152.0,89.0 153.0,89.7 154.0,90.5C155.0,91.2 156.0,92.0 157.0,92.7C158.0,93.5 159.0,94.3 160.0,95.0C161.0,95.8 162.0,96.6 163.0,97.4C164.0,98.2 165.0,99.1 166.0,99.9C167.0,100.7 168.0,101.6 169.0,102.4C170.0,103.3 171.0,104.2 172.0,105.0C173.0,105.9 174.0,106.8 175.0,107.7C176.0,108.6 177.0,109.6 178.0,110.5C179.0,111.4 180.0,112.4 181.0,113.3C182.0,114.3 183.0,115.3 184.0,116.3C185.0,117.2 186.0,118.2 187.0,119.3C188.0,120.3 189.0,121.3 190.0,122.3C191.0,123.4 192.0,124.4 193.0,125.5C194.0,126.6 195.0,127.6 196.0,128.7C197.0,129.8 198.0,131.0 199.0,132.1C200.0,133.2 201.0,134.3 202.0,135.5C203.0,136.7 204.0,137.8 205.0,139.0C206.0,140.2 207.0,141.4 208.0,142.6C209.0,143.8 210.0,145.1 211.0,146.3C212.0,147.6 213.0,148.8 214.0,150.1C215.0,151.4 216.0,152.7 217.0,154.0C218.0,155.3 219.0,156.6 220.0,157.9C221.0,159.3 222.0,160.6 223.0,162.0C224.0,163.4 225.0,164.8 226.0,166.2C227.0,167.6 228.0,169.0 229.0,170.5C230.0,171.9 231.0,173.4 232.0,174.9C233.0,176.3 234.0,177.8 235.0,179.3C236.0,180.9 237.0,182.4 238.0,184.0C239.0,185.5 240.0,187.1 241.0,188.7C242.0,190.3 243.0,191.9 244.0,193.5C245.0,195.1 246.0,196.8 247.0,198.4C248.0,200.1 249.0,201.8 250.0,203.5C251.0,205.2 252.0,206.9 253.0,208.7C254.0,210.4 255.0,212.2 256.0,214.0C257.0,215.8 258.0,217.6 259.0,219.4C260.0,221.3 261.0,223.1 262.0,225.0C263.0,226.9 264.0,228.8 265.0,230.8C266.0,232.7 267.0,234.7 268.0,236.6C269.0,238.6 270.0,240.6 271.0,242.7C272.0,244.7 273.0,246.8 274.0,248.9C275.0,251.0 276.0,253.1 277.0,255.3C278.0,257.4 279.0,259.6 280.0,261.8C281.0,264.0 282.0,266.3 283.0,268.5C284.0,270.8 285.0,273.1 286.0,275.4C287.0,277.8 288.0,280.2 289.0,282.6C290.0,285.0 291.0,287.4 292.0,289.9C293.0,292.3 294.0,294.8 295.0,297.4C296.0,299.9 297.0,302.5 298.0,305.1C299.0,307.7 300.0,310.3 301.0,313.0C302.0,315.7 303.0,318.4 304.0,321.1C305.0,323.9 306.0,326.7 307.0,329.5C308.0,332.3 309.0,335.1 310.0,337.9C311.0,340.8 312.0,343.7 313.0,346.6C314.0,349.5 315.0,352.5 316.0,355.4C317.0,358.4 318.0,361.4 319.0,364.4C320.0,367.4 321.0,370.4 322.0,373.5C323.0,376.5 324.0,379.6 325.0,382.7C326.0,385.8 327.0,388.9 328.0,392.0C329.0,395.2 330.0,398.3 331.0,401.5C332.0,404.7 333.0,407.9 334.0,411.0C335.0,414.2 336.0,417.4 337.0,420.6C338.0,423.7 339.0,426.9 340.0,430.0C341.0,433.1 342.0,436.2 343.0,439.3C344.0,442.3 345.0,445.3 346.0,448.2C347.0,451.1 348.0,454.0 349.0,456.8C350.0,459.6 351.0,462.3 352.0,464.8C353.0,467.4 354.0,469.9 355.0,472.3C356.0,474.7 357.0,477.0 358.0,479.1C359.0,481.2 360.0,483.2 361.0,485.1C362.0,487.0 363.0,488.7 364.0,490.3C365.0,491.9 366.0,493.4 367.0,494.8C368.0,496.1 369.0,497.4 370.0,498.6C371.0,499.7 372.0,500.8 373.0,501.7C374.0,502.7 375.0,503.5 376.0,504.3C377.0,505.0 378.0,505.7 379.0,506.3C380.0,506.9 381.0,507.4 382.0,507.9C383.0,508.3 384.0,508.7 385.0,509.0C386.0,509.3 387.0,509.6 388.0,509.8C389.0,509.9 390.0,510.1 391.0,510.2C392.0,510.3 393.0,510.3 394.0,510.3C395.0,510.4 396.0,510.3 397.0,510.3C398.0,510.2 399.0,510.1 400.0,510.1C401.0,510.0 402.0,509.8 403.0,509.7C404.0,509.6 405.0,509.4 406.0,509.3C407.0,509.2 408.0,509.0 409.0,508.9C410.0,508.7 411.0,508.6 412.0,508.4C413.0,508.3 414.0,508.1 415.0,508.0C416.0,507.9 417.0,507.7 418.0,507.6C419.0,507.4 420.0,507.3 421.0,507.1C422.0,507.0 423.0,506.9 424.0,506.7C425.0,506.6 426.0,506.5 427.0,506.3C428.0,506.2 429.0,506.1 430.0,505.9C431.0,505.8 432.0,505.7 433.0,505.6C434.0,505.5 435.0,505.4 436.0,505.2C437.0,505.1 438.0,505.0 439.0,504.9C440.0,504.8 441.0,504.7 442.0,504.7C443.0,504.6 444.0,504.5 445.0,504.4C446.0,504.4 447.0,504.3 448.0,504.2C449.0,504.2 450.0,504.1 451.0,504.1C452.0,504.0 453.0,504.0 454.0,504.0C455.0,503.9 456.0,503.9 457.0,503.9C458.0,503.9 459.0,503.9 460.0,504.0C461.0,504.0 462.0,504.0 463.0,504.1C464.0,504.1 465.0,504.2 466.0,504.2C467.0,504.3 468.0,504.4 469.0,504.5C470.0,504.6 471.0,504.7 472.0,504.9C473.0,505.0 474.0,505.2 475.0,505.4C476.0,505.5 477.0,505.7 478.0,505.9C479.0,506.2 480.0,506.4 481.0,506.7C482.0,506.9 483.0,507.2 484.0,507.5C485.0,507.8 486.0,508.1 487.0,508.4C488.0,508.8 489.0,509.1 490.0,509.5C491.0,509.9 492.0,510.2 493.0,510.6C494.0,511.0 495.0,511.4 496.0,511.9C497.0,512.3 498.0,512.7 499.0,513.2C500.0,513.6 501.0,514.1 502.0,514.6C503.0,515.0 504.0,515.5 505.0,516.0C506.0,516.5 507.0,517.0 508.0,517.5C509.0,518.0 510.0,518.5 511.0,519.0C512.0,519.6 513.0,520.1 514.0,520.6C515.0,521.2 516.0,521.7 517.0,522.2C518.0,522.8 519.0,523.3 520.0,523.8C521.0,524.4 522.0,524.9 523.0,525.5C524.0,526.0 525.0,526.6 526.0,527.1C527.0,527.6 528.0,528.2 529.0,528.7C530.0,529.3 531.0,529.8 532.0,530.3C533.0,530.9 534.0,531.4 535.0,531.9C536.0,532.4 537.0,532.9 538.0,533.5C539.0,534.0 540.0,534.5 541.0,535.0C542.0,535.4 543.0,535.9 544.0,536.4C545.0,536.9 546.0,537.3 547.0,537.8C548.0,538.2 549.0,538.7 550.0,539.1C551.0,539.5 552.0,539.9 553.0,540.3C554.0,540.7 555.0,541.1 556.0,541.5C557.0,541.9 558.0,542.2 559.0,542.5C560.0,542.9 561.0,543.2 562.0,543.5C563.0,543.8 564.0,544.1 565.0,544.3C566.0,544.6 567.0,544.8 568.0,545.0C569.0,545.3 570.0,545.5 571.0,545.6C572.0,545.8 573.0,546.0 574.0,546.1C575.0,546.2 576.0,546.3 577.0,546.4C578.0,546.4 579.0,546.5 580.0,546.5C581.0,546.5 582.0,546.5 583.0,546.5C584.0,546.4 585.0,546.4 586.0,546.3C587.0,546.2 588.0,546.1 589.0,545.9C590.0,545.8 591.0,545.6 592.0,545.4C593.0,545.2 594.0,545.0 595.0,544.7C596.0,544.5 597.0,544.2 598.0,543.9C599.0,543.6 600.0,543.3 601.0,542.9C602.0,542.5 603.0,542.1 604.0,541.7C605.0,541.3 606.0,540.9 607.0,540.4C608.0,539.9 609.0,539.4 610.0,538.9C611.0,538.4 612.0,537.8 613.0,537.3C614.0,536.7 615.0,536.1 616.0,535.5C617.0,534.9 618.0,534.2 619.0,533.6C620.0,532.9 621.0,532.2 622.0,531.6C623.0,530.9 624.0,530.2 625.0,529.5C626.0,528.8 627.0,528.1 628.0,527.4C629.0,526.7 630.0,526.0 631.0,525.3C632.0,524.6 633.0,523.9 634.0,523.2C635.0,522.5 636.0,521.8 637.0,521.2C638.0,520.5 639.0,519.8 640.0,519.2C641.0,518.6 642.0,518.0 643.0,517.3C644.0,516.7 645.0,516.1 646.0,515.6C647.0,515.0 648.0,514.4 649.0,513.9C650.0,513.3 651.0,512.8 652.0,512.3C653.0,511.7 654.0,511.2 655.0,510.7C656.0,510.2 657.0,509.8 658.0,509.3C659.0,508.8 660.0,508.4 661.0,507.9C662.0,507.5 663.0,507.0 664.0,506.6C665.0,506.2 666.0,505.8 667.0,505.4C668.0,505.0 669.0,504.7 670.0,504.3C671.0,503.9 672.0,503.6 673.0,503.3C674.0,502.9 675.0,502.6 676.0,502.3C677.0,502.0 678.0,501.7 679.0,501.4C680.0,501.1 681.0,500.8 682.0,500.6C683.0,500.3 684.0,500.1 685.0,499.9C686.0,499.6 687.0,499.4 688.0,499.2C689.0,499.0 690.0,498.8 691.0,498.6C692.0,498.5 693.0,498.3 694.0,498.1C695.0,498.0 696.0,497.9 697.0,497.7C698.0,497.6 699.0,497.5 700.0,497.4C701.0,497.3 702.0,497.2 703.0,497.1C704.0,497.0 705.0,497.0 706.0,496.9C707.0,496.9 708.0,496.8 709.0,496.8C710.0,496.8 711.0,496.8 712.0,496.8C713.0,496.8 714.0,496.8 715.0,496.8C716.0,496.8 717.0,496.9 718.0,496.9C719.0,497.0 720.0,497.0 721.0,497.1C722.0,497.2 723.0,497.3 724.0,497.4C725.0,497.5 726.0,497.6 727.0,497.7C728.0,497.8 729.0,497.9 730.0,498.0C731.0,498.2 732.0,498.3 733.0,498.5C734.0,498.6 735.0,498.8 736.0,499.0C737.0,499.1 738.0,499.3 739.0,499.5C740.0,499.7 741.0,499.9 742.0,500.1C743.0,500.3 744.0,500.5 745.0,500.7C746.0,501.0 747.0,501.2 748.0,501.4C749.0,501.7 750.0,501.9 751.0,502.2C752.0,502.4 753.0,502.7 754.0,502.9C755.0,503.2 756.0,503.5 757.0,503.8C758.0,504.0 759.0,504.3 760.0,504.6C761.0,504.9 762.0,505.2 763.0,505.5C764.0,505.8 765.0,506.1 766.0,506.4C767.0,506.7 768.0,507.0 769.0,507.3C770.0,507.6 771.0,508.0 772.0,508.3C773.0,508.6 774.0,508.9 775.0,509.3C776.0,509.6 777.0,509.9 778.0,510.2C779.0,510.6 780.0,510.9 781.0,511.2C782.0,511.5 783.0,511.9 784.0,512.2C785.0,512.5 786.0,512.8 787.0,513.1C788.0,513.4 789.0,513.7 790.0,514.0C791.0,514.2 792.0,514.5 793.0,514.8C794.0,515.0 795.0,515.3 796.0,515.5C797.0,515.7 798.0,515.9 799.0,516.1C800.0,516.3 801.0,516.5 802.0,516.7C803.0,516.9 804.0,517.0 805.0,517.1C806.0,517.2 807.0,517.4 808.0,517.4C809.0,517.5 810.2,517.6 811.0,517.6C811.8,517.7 812.5,517.6 812.8,517.7" stroke="#800080"/>
<path d="M85.0,66.0C85.5,66.2 87.0,66.9 88.0,67.3C89.0,67.7 90.0,68.2 91.0,68.6C92.0,69.1 93.0,69.5 94.0,70.0C95.0,70.5 96.0,71.0 97.0,71.5C98.0,71.9 99.0,72.5 100.0,73.0C101.0,73.5 102.0,74.0 103.0,74.6C104.0,75.1 105.0,75.6 106.0,76.2C107.0,76.8 108.0,77.3 109.0,77.9C110.0,78.5 111.0,79.1 112.0,79.7C113.0,80.3 114.0,80.9 115.0,81.6C116.0,82.2 117.0,82.8 118.0,83.5C119.0,84.2 120.0,84.8 121.0,85.5C122.0,86.2 123.0,86.9 124.0,87.6C125.0,88.3 126.0,89.0 127.0,89.7C128.0,90.5 129.0,91.2 130.0,92.0C131.0,92.7 132.0,93.5 133.0,94.3C134.0,95.1 135.0,95.9 136.0,96.7C137.0,97.5 138.0,98.3 139.0,99.1C140.0,100.0 141.0,100.8 142.0,101.7C143.0,102.6 144.0,103.4 145.0,104.3C146.0,105.2 147.0,106.1 148.0,107.1C149.0,108.0 150.0,108.9 151.0,109.9C152.0,110.8 153.0,111.8 154.0,112.8C155.0,113.7 156.0,114.7 157.0,115.8C158.0,116.8 159.0,117.8 160.0,118.8C161.0,119.9 162.0,120.9 163.0,122.0C164.0,123.1 165.0,124.1 166.0,125.2C167.0,126.4 168.0,127.5 169.0,128.6C170.0,129.7 171.0,130.9 172.0,132.0C173.0,133.2 174.0,134.4 175.0,135.6C176.0,136.8 177.0,138.0 178.0,139.2C179.0,140.5 180.0,141.7 181.0,143.0C182.0,144.2 183.0,145.5 184.0,146.8C185.0,148.1 186.0,149.4 187.0,150.7C188.0,152.1 189.0,153.4 190.0,154.8C191.0,156.1 192.0,157.5 193.0,158.9C194.0,160.3 195.0,161.7 196.0,163.2C197.0,164.6 198.0,166.0 199.0,167.5C200.0,169.0 201.0,170.5 202.0,172.0C203.0,173.5 204.0,175.0 205.0,176.5C206.0,178.1 207.0,179.6 208.0,181.2C209.0,182.8 210.0,184.4 211.0,186.0C212.0,187.6 213.0,189.3 214.0,190.9C215.0,192.6 216.0,194.2 217.0,195.9C218.0,197.6 219.0,199.4 220.0,201.1C221.0,202.8 222.0,204.6 223.0,206.4C224.0,208.1 225.0,209.9 226.0,211.8C227.0,213.6 228.0,215.4 229.0,217.3C230.0,219.2 231.0,221.1 232.0,223.0C233.0,224.9 234.0,226.8 235.0,228.8C236.0,230.7 237.0,232.7 238.0,234.7C239.0,236.7 240.0,238.7 241.0,240.8C242.0,242.8 243.0,244.9 244.0,247.0C245.0,249.1 246.0,251.2 247.0,253.4C248.0,255.5 249.0,257.7 250.0,259.9C251.0,262.1 252.0,264.3 253.0,266.6C254.0,268.8 255.0,271.1 256.0,273.4C257.0,275.7 258.0,278.1 259.0,280.4C260.0,282.8 261.0,285.2 262.0,287.6C263.0,290.0 264.0,292.4 265.0,294.9C266.0,297.4 267.0,299.8 268.0,302.4C269.0,304.9 270.0,307.4 271.0,310.0C272.0,312.6 273.0,315.2 274.0,317.8C275.0,320.5 276.0,323.1 277.0,325.8C278.0,328.5 279.0,331.3 280.0,334.0C281.0,336.8 282.0,339.5 283.0,342.4C284.0,345.2 285.0,348.0 286.0,350.9C287.0,353.8 288.0,356.7 289.0,359.6C290.0,362.5 291.0,365.4 292.0,368.4C293.0,371.3 294.0,374.3 295.0,377.3C296.0,380.3 297.0,383.3 298.0,386.3C299.0,389.4 300.0,392.4 301.0,395.4C302.0,398.5 303.0,401.5 304.0,404.6C305.0,407.7 306.0,410.7 307.0,413.8C308.0,416.9 309.0,419.9 310.0,423.0C311.0,426.1 312.0,429.2 313.0,432.2C314.0,435.3 315.0,438.4 316.0,441.4C317.0,444.5 318.0,447.5 319.0,450.5C320.0,453.5 321.0,456.5 322.0,459.4C323.0,462.3 324.0,465.1 325.0,467.9C326.0,470.7 327.0,473.4 328.0,476.0C329.0,478.7 330.0,481.2 331.0,483.7C332.0,486.1 333.0,488.5 334.0,490.7C335.0,493.0 336.0,495.1 337.0,497.1C338.0,499.1 339.0,500.9 340.0,502.6C341.0,504.3 342.0,505.9 343.0,507.3C344.0,508.7 345.0,509.9 346.0,511.0C347.0,512.1 348.0,513.1 349.0,513.9C350.0,514.8 351.0,515.5 352.0,516.1C353.0,516.7 354.0,517.2 355.0,517.6C356.0,518.0 357.0,518.4 358.0,518.6C359.0,518.9 360.0,519.0 361.0,519.1C362.0,519.2 363.0,519.3 364.0,519.3C365.0,519.3 366.0,519.2 367.0,519.1C368.0,519.1 369.0,518.9 370.0,518.8C371.0,518.7 372.0,518.5 373.0,518.4C374.0,518.2 375.0,518.0 376.0,517.8C377.0,517.6 378.0,517.4 379.0,517.2C380.0,517.0 381.0,516.7 382.0,516.5C383.0,516.2 384.0,516.0 385.0,515.7C386.0,515.4 387.0,515.2 388.0,514.9C389.0,514.6 390.0,514.4 391.0,514.1C392.0,513.8 393.0,513.5 394.0,513.2C395.0,513.0 396.0,512.7 397.0,512.4C398.0,512.1 399.0,511.9 400.0,511.6C401.0,511.3 402.0,511.1 403.0,510.8C404.0,510.6 405.0,510.3 406.0,510.1C407.0,509.9 408.0,509.7 409.0,509.5C410.0,509.3 411.0,509.1 412.0,508.9C413.0,508.7 414.0,508.5 415.0,508.3C416.0,508.1 417.0,508.0 418.0,507.8C419.0,507.7 420.0,507.5 421.0,507.4C422.0,507.2 423.0,507.1 424.0,507.0C425.0,506.9 426.0,506.7 427.0,506.6C428.0,506.5 429.0,506.4 430.0,506.3C431.0,506.2 432.0,506.1 433.0,506.0C434.0,505.9 435.0,505.9 436.0,505.8C437.0,505.7 438.0,505.7 439.0,505.6C440.0,505.5 441.0,505.5 442.0,505.4C443.0,505.4 444.0,505.3 445.0,505.3C446.0,505.2 447.0,505.2 448.0,505.2C449.0,505.1 450.0,505.1 451.0,505.1C452.0,505.0 453.0,505.0 454.0,505.0C455.0,505.0 456.0,505.0 457.0,505.0C458.0,505.0 459.0,505.1 460.0,505.1C461.0,505.1 462.0,505.2 463.0,505.2C464.0,505.3 465.0,505.3 466.0,505.4C467.0,505.5 468.0,505.6 469.0,505.7C470.0,505.8 471.0,506.0 472.0,506.1C473.0,506.3 474.0,506.4 475.0,506.6C476.0,506.8 477.0,507.0 478.0,507.2C479.0,507.5 480.0,507.7 481.0,508.0C482.0,508.2 483.0,508.5 484.0,508.8C485.0,509.2 486.0,509.5 487.0,509.8C488.0,510.2 489.0,510.6 490.0,510.9C491.0,511.3 492.0,511.7 493.0,512.1C494.0,512.6 495.0,513.0 496.0,513.4C497.0,513.9 498.0,514.3 499.0,514.8C500.0,515.3 501.0,515.8 502.0,516.3C503.0,516.8 504.0,517.3 505.0,517.8C506.0,518.3 507.0,518.8 508.0,519.4C509.0,519.9 510.0,520.4 511.0,521.0C512.0,521.5 513.0,522.1 514.0,522.6C515.0,523.2 516.0,523.7 517.0,524.3C518.0,524.9 519.0,525.4 520.0,526.0C521.0,526.6 522.0,527.1 523.0,527.7C524.0,528.3 525.0,528.8 526.0,529.4C527.0,530.0 528.0,530.5 529.0,531.1C530.0,531.7 531.0,532.2 532.0,532.8C533.0,533.3 534.0,533.9 535.0,534.4C536.0,535.0 537.0,535.5 538.0,536.0C539.0,536.6 540.0,537.1 541.0,537.6C542.0,538.1 543.0,538.6 544.0,539.1C545.0,539.6 546.0,540.1 547.0,540.5C548.0,541.0 549.0,541.5 550.0,541.9C551.0,542.3 552.0,542.8 553.0,543.2C554.0,543.6 555.0,544.0 556.0,544.3C557.0,544.7 558.0,545.1 559.0,545.4C560.0,545.8 561.0,546.1 562.0,546.4C563.0,546.7 564.0,547.0 565.0,547.2C566.0,547.5 567.0,547.7 568.0,547.9C569.0,548.2 570.0,548.3 571.0,548.5C572.0,548.7 573.0,548.8 574.0,548.9C575.0,549.0 576.0,549.1 577.0,549.2C578.0,549.2 579.0,549.3 580.0,549.3C581.0,549.3 582.0,549.2 583.0,549.2C584.0,549.1 585.0,549.0 586.0,548.9C587.0,548.8 588.0,548.7 589.0,548.5C590.0,548.3 591.0,548.1 592.0,547.9C593.0,547.7 594.0,547.4 595.0,547.1C596.0,546.8 597.0,546.5 598.0,546.2C599.0,545.8 600.0,545.5 601.0,545.1C602.0,544.7 603.0,544.3 604.0,543.8C605.0,543.4 606.0,542.9 607.0,542.4C608.0,541.9 609.0,541.4 610.0,540.8C611.0,540.3 612.0,539.7 613.0,539.1C614.0,538.5 615.0,537.9 616.0,537.2C617.0,536.6 618.0,535.9 619.0,535.3C620.0,534.6 621.0,533.9 622.0,533.2C623.0,532.5 624.0,531.8 625.0,531.0C626.0,530.3 627.0,529.6 628.0,528.9C629.0,528.2 630.0,527.4 631.0,526.7C632.0,526.0 633.0,525.3 634.0,524.6C635.0,523.9 636.0,523.2 637.0,522.5C638.0,521.8 639.0,521.2 640.0,520.5C641.0,519.9 642.0,519.2 643.0,518.6C644.0,518.0 645.0,517.3 646.0,516.7C647.0,516.2 648.0,515.6 649.0,515.0C650.0,514.4 651.0,513.9 652.0,513.3C653.0,512.8 654.0,512.2 655.0,511.7C656.0,511.2 657.0,510.7 658.0,510.2C659.0,509.7 660.0,509.3 661.0,508.8C662.0,508.3 663.0,507.9 664.0,507.5C665.0,507.0 666.0,506.6 667.0,506.2C668.0,505.8 669.0,505.4 670.0,505.0C671.0,504.7 672.0,504.3 673.0,503.9C674.0,503.6 675.0,503.3 676.0,502.9C677.0,502.6 678.0,502.3 679.0,502.0C680.0,501.7 681.0,501.4 682.0,501.2C683.0,500.9 684.0,500.7 685.0,500.4C686.0,500.2 687.0,500.0 688.0,499.7C689.0,499.5 690.0,499.3 691.0,499.2C692.0,499.0 693.0,498.8 694.0,498.7C695.0,498.5 696.0,498.4 697.0,498.3C698.0,498.1 699.0,498.0 700.0,497.9C701.0,497.8 702.0,497.7 703.0,497.7C704.0,497.6 705.0,497.6 706.0,497.5C707.0,497.5 708.0,497.5 709.0,497.4C710.0,497.4 711.0,497.4 712.0,497.5C713.0,497.5 714.0,497.5 715.0,497.6C716.0,497.6 717.0,497.7 718.0,497.7C719.0,497.8 720.0,497.9 721.0,498.0C722.0,498.1 723.0,498.2 724.0,498.3C725.0,498.4 726.0,498.6 727.0,498.7C728.0,498.9 729.0,499.0 730.0,499.2C731.0,499.4 732.0,499.5 733.0,499.7C734.0,499.9 735.0,500.1 736.0,500.3C737.0,500.5 738.0,500.7 739.0,500.9C740.0,501.1 741.0,501.4 742.0,501.6C743.0,501.8 744.0,502.1 745.0,502.3C746.0,502.6 747.0,502.8 748.0,503.1C749.0,503.3 750.0,503.6 751.0,503.9C752.0,504.1 753.0,504.4 754.0,504.7C755.0,504.9 756.0,505.2 757.0,505.5C758.0,505.8 759.0,506.1 760.0,506.4C761.0,506.7 762.0,507.0 763.0,507.3C764.0,507.6 765.0,507.9 766.0,508.1C767.0,508.4 768.0,508.7 769.0,509.0C770.0,509.3 771.0,509.6 772.0,509.9C773.0,510.2 774.0,510.5 775.0,510.8C776.0,511.1 777.0,511.4 778.0,511.7C779.0,512.0 780.0,512.3 781.0,512.6C782.0,512.9 783.0,513.2 784.0,513.5C785.0,513.8 786.0,514.1 787.0,514.3C788.0,514.6 789.0,514.9 790.0,515.2C791.0,515.4 792.0,515.7 793.0,516.0C794.0,516.2 795.0,516.5 796.0,516.7C797.0,517.0 798.0,517.2 799.0,517.4C800.0,517.7 801.0,517.9 802.0,518.1C803.0,518.4 804.0,518.6 805.0,518.8C806.0,519.0 807.0,519.2 808.0,519.4C809.0,519.6 810.2,519.8 811.0,519.9C811.8,520.0 812.5,520.1 812.8,520.2" stroke="#ff8000"/>
<path d="M85.0,78.4C85.5,78.7 87.0,79.4 88.0,79.9C89.0,80.4 90.0,80.9 91.0,81.5C92.0,82.0 93.0,82.6 94.0,83.1C95.0,83.7 96.0,84.3 97.0,84.9C98.0,85.5 99.0,86.1 100.0,86.8C101.0,87.4 102.0,88.0 103.0,88.7C104.0,89.4 105.0,90.0 106.0,90.7C107.0,91.4 108.0,92.1 109.0,92.9C110.0,93.6 111.0,94.3 112.0,95.1C113.0,95.9 114.0,96.6 115.0,97.4C116.0,98.2 117.0,99.0 118.0,99.8C119.0,100.7 120.0,101.5 121.0,102.4C122.0,103.2 123.0,104.1 124.0,105.0C125.0,105.8 126.0,106.7 127.0,107.7C128.0,108.6 129.0,109.5 130.0,110.5C131.0,111.4 132.0,112.4 133.0,113.3C134.0,114.3 135.0,115.3 136.0,116.3C137.0,117.3 138.0,118.4 139.0,119.4C140.0,120.4 141.0,121.5 142.0,122.6C143.0,123.6 144.0,124.7 145.0,125.8C146.0,126.9 147.0,128.1 148.0,129.2C149.0,130.3 150.0,131.5 151.0,132.7C152.0,133.8 153.0,135.0 154.0,136.2C155.0,137.4 156.0,138.6 157.0,139.9C158.0,141.1 159.0,142.3 160.0,143.6C161.0,144.9 162.0,146.1 163.0,147.4C164.0,148.7 165.0,150.0 166.0,151.4C167.0,152.7 168.0,154.0 169.0,155.4C170.0,156.7 171.0,158.1 172.0,159.5C173.0,160.9 174.0,162.3 175.0,163.7C176.0,165.1 177.0,166.6 178.0,168.0C179.0,169.5 180.0,171.0 181.0,172.4C182.0,173.9 183.0,175.4 184.0,176.9C185.0,178.5 186.0,180.0 187.0,181.5C188.0,183.1 189.0,184.7 190.0,186.2C191.0,187.8 192.0,189.4 193.0,191.1C194.0,192.7 195.0,194.3 196.0,196.0C197.0,197.6 198.0,199.3 199.0,201.0C200.0,202.7 201.0,204.4 202.0,206.2C203.0,207.9 204.0,209.7 205.0,211.5C206.0,213.3 207.0,215.1 208.0,216.9C209.0,218.7 210.0,220.6 211.0,222.5C212.0,224.3 213.0,226.2 214.0,228.2C215.0,230.1 216.0,232.0 217.0,234.0C218.0,236.0 219.0,238.0 220.0,240.0C221.0,242.0 222.0,244.1 223.0,246.2C224.0,248.3 225.0,250.4 226.0,252.5C227.0,254.6 228.0,256.8 229.0,259.0C230.0,261.2 231.0,263.4 232.0,265.6C233.0,267.9 234.0,270.2 235.0,272.5C236.0,274.8 237.0,277.1 238.0,279.5C239.0,281.8 240.0,284.2 241.0,286.7C242.0,289.1 243.0,291.6 244.0,294.0C245.0,296.5 246.0,299.1 247.0,301.6C248.0,304.2 249.0,306.8 250.0,309.4C251.0,312.0 252.0,314.7 253.0,317.4C254.0,320.1 255.0,322.8 256.0,325.6C257.0,328.4 258.0,331.2 259.0,334.0C260.0,336.8 261.0,339.7 262.0,342.6C263.0,345.5 264.0,348.5 265.0,351.4C266.0,354.4 267.0,357.4 268.0,360.4C269.0,363.5 270.0,366.5 271.0,369.6C272.0,372.7 273.0,375.7 274.0,378.8C275.0,382.0 276.0,385.1 277.0,388.2C278.0,391.3 279.0,394.5 280.0,397.6C281.0,400.8 282.0,403.9 283.0,407.1C284.0,410.2 285.0,413.4 286.0,416.6C287.0,419.7 288.0,422.9 289.0,426.0C290.0,429.2 291.0,432.3 292.0,435.4C293.0,438.6 294.0,441.7 295.0,444.8C296.0,447.9 297.0,450.9 298.0,453.9C299.0,457.0 300.0,460.0 301.0,462.9C302.0,465.8 303.0,468.7 304.0,471.5C305.0,474.3 306.0,477.0 307.0,479.6C308.0,482.3 309.0,484.9 310.0,487.3C311.0,489.8 312.0,492.2 313.0,494.4C314.0,496.7 315.0,498.9 316.0,500.9C317.0,502.9 318.0,504.8 319.0,506.6C320.0,508.4 321.0,510.0 322.0,511.5C323.0,513.0 324.0,514.3 325.0,515.6C326.0,516.8 327.0,517.9 328.0,518.9C329.0,519.9 330.0,520.7 331.0,521.5C332.0,522.3 333.0,522.9 334.0,523.5C335.0,524.0 336.0,524.5 337.0,524.9C338.0,525.3 339.0,525.5 340.0,525.8C341.0,526.0 342.0,526.1 343.0,526.2C344.0,526.3 345.0,526.3 346.0,526.3C347.0,526.3 348.0,526.3 349.0,526.2C350.0,526.1 351.0,526.0 352.0,525.9C353.0,525.8 354.0,525.7 355.0,525.5C356.0,525.4 357.0,525.2 358.0,525.0C359.0,524.9 360.0,524.6 361.0,524.4C362.0,524.2 363.0,524.0 364.0,523.8C365.0,523.5 366.0,523.3 367.0,523.0C368.0,522.7 369.0,522.5 370.0,522.2C371.0,521.9 372.0,521.6 373.0,521.3C374.0,521.0 375.0,520.7 376.0,520.4C377.0,520.1 378.0,519.8 379.0,519.5C380.0,519.2 381.0,518.8 382.0,518.5C383.0,518.2 384.0,517.9 385.0,517.6C386.0,517.2 387.0,516.9 388.0,516.6C389.0,516.3 390.0,516.0 391.0,515.7C392.0,515.4 393.0,515.1 394.0,514.8C395.0,514.5 396.0,514.2 397.0,513.9C398.0,513.6 399.0,513.3 400.0,513.0C401.0,512.7 402.0,512.5 403.0,512.2C404.0,511.9 405.0,511.7 406.0,511.4C407.0,511.1 408.0,510.9 409.0,510.7C410.0,510.4 411.0,510.2 412.0,509.9C413.0,509.7 414.0,509.5 415.0,509.3C416.0,509.0 417.0,508.8 418.0,508.6C419.0,508.4 420.0,508.2 421.0,508.0C422.0,507.8 423.0,507.7 424.0,507.5C425.0,507.3 426.0,507.2 427.0,507.0C428.0,506.8 429.0,506.7 430.0,506.6C431.0,506.4 432.0,506.3 433.0,506.2C434.0,506.1 435.0,506.0 436.0,505.9C437.0,505.8 438.0,505.7 439.0,505.6C440.0,505.5 441.0,505.4 442.0,505.4C443.0,505.3 444.0,505.3 445.0,505.3C446.0,505.2 447.0,505.2 448.0,505.2C449.0,505.2 450.0,505.2 451.0,505.2C452.0,505.2 453.0,505.2 454.0,505.3C455.0,505.3 456.0,505.4 457.0,505.4C458.0,505.5 459.0,505.6 460.0,505.7C461.0,505.7 462.0,505.9 463.0,506.0C464.0,506.1 465.0,506.2 466.0,506.4C467.0,506.5 468.0,506.7 469.0,506.8C470.0,507.0 471.0,507.2 472.0,507.4C473.0,507.6 474.0,507.8 475.0,508.1C476.0,508.3 477.0,508.6 478.0,508.8C479.0,509.1 480.0,509.4 481.0,509.7C482.0,510.0 483.0,510.3 484.0,510.6C485.0,511.0 486.0,511.3 487.0,511.7C488.0,512.0 489.0,512.4 490.0,512.8C491.0,513.2 492.0,513.6 493.0,514.0C494.0,514.4 495.0,514.8 496.0,515.2C497.0,515.7 498.0,516.1 499.0,516.6C500.0,517.0 501.0,517.5 502.0,518.0C503.0,518.4 504.0,518.9 505.0,519.4C506.0,519.9 507.0,520.4 508.0,520.9C509.0,521.4 510.0,521.9 511.0,522.4C512.0,523.0 513.0,523.5 514.0,524.0C515.0,524.6 516.0,525.1 517.0,525.6C518.0,526.2 519.0,526.7 520.0,527.3C521.0,527.8 522.0,528.4 523.0,528.9C524.0,529.5 525.0,530.0 526.0,530.6C527.0,531.1 528.0,531.7 529.0,532.3C530.0,532.8 531.0,533.4 532.0,533.9C533.0,534.5 534.0,535.1 535.0,535.6C536.0,536.2 537.0,536.7 538.0,537.3C539.0,537.8 540.0,538.4 541.0,538.9C542.0,539.5 543.0,540.0 544.0,540.5C545.0,541.1 546.0,541.6 547.0,542.1C548.0,542.6 549.0,543.1 550.0,543.6C551.0,544.1 552.0,544.6 553.0,545.0C554.0,545.5 555.0,545.9 556.0,546.4C557.0,546.8 558.0,547.2 559.0,547.6C560.0,548.0 561.0,548.4 562.0,548.7C563.0,549.1 564.0,549.4 565.0,549.7C566.0,550.0 567.0,550.3 568.0,550.5C569.0,550.8 570.0,551.0 571.0,551.2C572.0,551.4 573.0,551.5 574.0,551.7C575.0,551.8 576.0,551.9 577.0,552.0C578.0,552.0 579.0,552.0 580.0,552.0C581.0,552.0 582.0,552.0 583.0,551.9C584.0,551.8 585.0,551.7 586.0,551.6C587.0,551.4 588.0,551.2 589.0,551.0C590.0,550.8 591.0,550.5 592.0,550.3C593.0,550.0 594.0,549.7 595.0,549.3C596.0,549.0 597.0,548.6 598.0,548.2C599.0,547.8 600.0,547.4 601.0,547.0C602.0,546.5 603.0,546.0 604.0,545.5C605.0,545.0 606.0,544.5 607.0,544.0C608.0,543.4 609.0,542.8 610.0,542.3C611.0,541.7 612.0,541.1 613.0,540.4C614.0,539.8 615.0,539.1 616.0,538.5C617.0,537.8 618.0,537.1 619.0,536.4C620.0,535.7 621.0,535.0 622.0,534.3C623.0,533.6 624.0,532.9 625.0,532.2C626.0,531.5 627.0,530.7 628.0,530.0C629.0,529.3 630.0,528.6 631.0,527.8C632.0,527.1 633.0,526.4 634.0,525.7C635.0,525.0 636.0,524.3 637.0,523.6C638.0,523.0 639.0,522.3 640.0,521.7C641.0,521.0 642.0,520.4 643.0,519.7C644.0,519.1 645.0,518.5 646.0,517.9C647.0,517.3 648.0,516.7 649.0,516.1C650.0,515.6 651.0,515.0 652.0,514.5C653.0,513.9 654.0,513.4 655.0,512.9C656.0,512.3 657.0,511.8 658.0,511.3C659.0,510.8 660.0,510.4 661.0,509.9C662.0,509.4 663.0,509.0 664.0,508.5C665.0,508.1 666.0,507.7 667.0,507.3C668.0,506.9 669.0,506.5 670.0,506.1C671.0,505.7 672.0,505.3 673.0,505.0C674.0,504.6 675.0,504.3 676.0,504.0C677.0,503.6 678.0,503.3 679.0,503.0C680.0,502.7 681.0,502.4 682.0,502.2C683.0,501.9 684.0,501.6 685.0,501.4C686.0,501.2 687.0,500.9 688.0,500.7C689.0,500.5 690.0,500.3 691.0,500.1C692.0,499.9 693.0,499.8 694.0,499.6C695.0,499.5 696.0,499.3 697.0,499.2C698.0,499.1 699.0,498.9 700.0,498.9C701.0,498.8 702.0,498.7 703.0,498.6C704.0,498.5 705.0,498.5 706.0,498.4C707.0,498.4 708.0,498.4 709.0,498.4C710.0,498.4 711.0,498.4 712.0,498.4C713.0,498.4 714.0,498.5 715.0,498.5C716.0,498.6 717.0,498.6 718.0,498.7C719.0,498.8 720.0,498.9 721.0,499.0C722.0,499.1 723.0,499.2 724.0,499.3C725.0,499.5 726.0,499.6 727.0,499.7C728.0,499.9 729.0,500.1 730.0,500.2C731.0,500.4 732.0,500.6 733.0,500.8C734.0,501.0 735.0,501.2 736.0,501.4C737.0,501.6 738.0,501.8 739.0,502.1C740.0,502.3 741.0,502.5 742.0,502.8C743.0,503.0 744.0,503.3 745.0,503.5C746.0,503.8 747.0,504.1 748.0,504.3C749.0,504.6 750.0,504.9 751.0,505.2C752.0,505.4 753.0,505.7 754.0,506.0C755.0,506.3 756.0,506.6 757.0,506.9C758.0,507.2 759.0,507.5 760.0,507.8C761.0,508.1 762.0,508.4 763.0,508.8C764.0,509.1 765.0,509.4 766.0,509.7C767.0,510.0 768.0,510.3 769.0,510.6C770.0,511.0 771.0,511.3 772.0,511.6C773.0,511.9 774.0,512.2 775.0,512.5C776.0,512.9 777.0,513.2 778.0,513.5C779.0,513.8 780.0,514.1 781.0,514.4C782.0,514.7 783.0,515.0 784.0,515.3C785.0,515.6 786.0,515.9 787.0,516.2C788.0,516.5 789.0,516.8 790.0,517.1C791.0,517.4 792.0,517.7 793.0,518.0C794.0,518.2 795.0,518.5 796.0,518.8C797.0,519.0 798.0,519.3 799.0,519.6C800.0,519.8 801.0,520.1 802.0,520.3C803.0,520.5 804.0,520.8 805.0,521.0C806.0,521.2 807.0,521.4 808.0,521.6C809.0,521.8 810.2,522.0 811.0,522.2C811.8,522.3 812.5,522.5 812.8,522.5" stroke="#0000aa"/>
<path d="M85.0,90.1C85.5,90.5 87.0,91.4 88.0,92.1C89.0,92.7 90.0,93.4 91.0,94.1C92.0,94.8 93.0,95.5 94.0,96.2C95.0,96.9 96.0,97.6 97.0,98.4C98.0,99.2 99.0,99.9 100.0,100.7C101.0,101.5 102.0,102.3 103.0,103.1C104.0,103.9 105.0,104.8 106.0,105.6C107.0,106.5 108.0,107.3 109.0,108.2C110.0,109.1 111.0,110.0 112.0,110.9C113.0,111.9 114.0,112.8 115.0,113.7C116.0,114.7 117.0,115.7 118.0,116.7C119.0,117.6 120.0,118.6 121.0,119.7C122.0,120.7 123.0,121.7 124.0,122.8C125.0,123.8 126.0,124.9 127.0,126.0C128.0,127.1 129.0,128.2 130.0,129.4C131.0,130.5 132.0,131.6 133.0,132.8C134.0,134.0 135.0,135.1 136.0,136.3C137.0,137.5 138.0,138.8 139.0,140.0C140.0,141.2 141.0,142.5 142.0,143.8C143.0,145.0 144.0,146.3 145.0,147.7C146.0,149.0 147.0,150.3 148.0,151.6C149.0,153.0 150.0,154.4 151.0,155.8C152.0,157.1 153.0,158.5 154.0,160.0C155.0,161.4 156.0,162.8 157.0,164.3C158.0,165.8 159.0,167.3 160.0,168.8C161.0,170.3 162.0,171.8 163.0,173.3C164.0,174.9 165.0,176.4 166.0,178.0C167.0,179.6 168.0,181.2 169.0,182.8C170.0,184.4 171.0,186.1 172.0,187.7C173.0,189.4 174.0,191.1 175.0,192.8C176.0,194.5 177.0,196.2 178.0,198.0C179.0,199.7 180.0,201.5 181.0,203.3C182.0,205.0 183.0,206.8 184.0,208.7C185.0,210.5 186.0,212.3 187.0,214.2C188.0,216.1 189.0,218.0 190.0,219.9C191.0,221.8 192.0,223.7 193.0,225.7C194.0,227.6 195.0,229.6 196.0,231.6C197.0,233.6 198.0,235.6 199.0,237.7C200.0,239.7 201.0,241.8 202.0,243.9C203.0,246.0 204.0,248.1 205.0,250.2C206.0,252.4 207.0,254.5 208.0,256.7C209.0,258.9 210.0,261.1 211.0,263.3C212.0,265.6 213.0,267.8 214.0,270.1C215.0,272.4 216.0,274.7 217.0,277.0C218.0,279.3 219.0,281.7 220.0,284.1C221.0,286.4 222.0,288.9 223.0,291.3C224.0,293.7 225.0,296.2 226.0,298.7C227.0,301.1 228.0,303.6 229.0,306.2C230.0,308.7 231.0,311.3 232.0,313.9C233.0,316.4 234.0,319.1 235.0,321.7C236.0,324.3 237.0,327.0 238.0,329.7C239.0,332.4 240.0,335.1 241.0,337.9C242.0,340.6 243.0,343.4 244.0,346.2C245.0,349.0 246.0,351.8 247.0,354.7C248.0,357.6 249.0,360.4 250.0,363.4C251.0,366.3 252.0,369.2 253.0,372.2C254.0,375.2 255.0,378.2 256.0,381.2C257.0,384.3 258.0,387.3 259.0,390.4C260.0,393.5 261.0,396.6 262.0,399.7C263.0,402.8 264.0,406.0 265.0,409.2C266.0,412.3 267.0,415.5 268.0,418.7C269.0,421.9 270.0,425.2 271.0,428.4C272.0,431.6 273.0,434.9 274.0,438.2C275.0,441.4 276.0,444.7 277.0,447.9C278.0,451.1 279.0,454.4 280.0,457.5C281.0,460.7 282.0,463.8 283.0,466.9C284.0,470.0 285.0,473.0 286.0,475.9C287.0,478.8 288.0,481.7 289.0,484.5C290.0,487.2 291.0,489.9 292.0,492.4C293.0,495.0 294.0,497.5 295.0,499.8C296.0,502.1 297.0,504.3 298.0,506.4C299.0,508.4 300.0,510.4 301.0,512.1C302.0,513.9 303.0,515.5 304.0,517.0C305.0,518.5 306.0,519.8 307.0,521.0C308.0,522.2 309.0,523.3 310.0,524.2C311.0,525.2 312.0,526.1 313.0,526.9C314.0,527.6 315.0,528.3 316.0,528.9C317.0,529.5 318.0,529.9 319.0,530.4C320.0,530.8 321.0,531.1 322.0,531.4C323.0,531.6 324.0,531.8 325.0,531.9C326.0,532.1 327.0,532.1 328.0,532.2C329.0,532.2 330.0,532.1 331.0,532.1C332.0,532.0 333.0,531.9 334.0,531.7C335.0,531.6 336.0,531.4 337.0,531.2C338.0,530.9 339.0,530.7 340.0,530.5C341.0,530.2 342.0,529.9 343.0,529.7C344.0,529.4 345.0,529.1 346.0,528.8C347.0,528.6 348.0,528.3 349.0,528.0C350.0,527.7 351.0,527.4 352.0,527.2C353.0,526.9 354.0,526.6 355.0,526.3C356.0,526.0 357.0,525.7 358.0,525.4C359.0,525.2 360.0,524.9 361.0,524.6C362.0,524.3 363.0,524.0 364.0,523.7C365.0,523.4 366.0,523.1 367.0,522.8C368.0,522.6 369.0,522.3 370.0,522.0C371.0,521.7 372.0,521.4 373.0,521.1C374.0,520.8 375.0,520.5 376.0,520.2C377.0,520.0 378.0,519.7 379.0,519.4C380.0,519.1 381.0,518.8 382.0,518.5C383.0,518.2 384.0,517.9 385.0,517.7C386.0,517.4 387.0,517.1 388.0,516.8C389.0,516.5 390.0,516.3 391.0,516.0C392.0,515.7 393.0,515.4 394.0,515.1C395.0,514.9 396.0,514.6 397.0,514.3C398.0,514.1 399.0,513.8 400.0,513.5C401.0,513.3 402.0,513.0 403.0,512.7C404.0,512.5 405.0,512.2 406.0,512.0C407.0,511.7 408.0,511.5 409.0,511.2C410.0,511.0 411.0,510.8 412.0,510.5C413.0,510.3 414.0,510.1 415.0,509.9C416.0,509.7 417.0,509.4 418.0,509.2C419.0,509.0 420.0,508.8 421.0,508.6C422.0,508.5 423.0,508.3 424.0,508.1C425.0,507.9 426.0,507.7 427.0,507.6C428.0,507.4 429.0,507.3 430.0,507.1C431.0,507.0 432.0,506.9 433.0,506.7C434.0,506.6 435.0,506.5 436.0,506.4C437.0,506.3 438.0,506.2 439.0,506.1C440.0,506.0 441.0,505.9 442.0,505.9C443.0,505.8 444.0,505.7 445.0,505.7C446.0,505.7 447.0,505.6 448.0,505.6C449.0,505.6 450.0,505.6 451.0,505.6C452.0,505.6 453.0,505.6 454.0,505.6C455.0,505.7 456.0,505.7 457.0,505.8C458.0,505.8 459.0,505.9 460.0,506.0C461.0,506.1 462.0,506.2 463.0,506.3C464.0,506.4 465.0,506.5 466.0,506.7C467.0,506.8 468.0,507.0 469.0,507.1C470.0,507.3 471.0,507.5 472.0,507.7C473.0,507.9 474.0,508.1 475.0,508.4C476.0,508.6 477.0,508.9 478.0,509.2C479.0,509.4 480.0,509.7 481.0,510.0C482.0,510.3 483.0,510.7 484.0,511.0C485.0,511.4 486.0,511.7 487.0,512.1C488.0,512.5 489.0,512.9 490.0,513.3C491.0,513.7 492.0,514.1 493.0,514.5C494.0,514.9 495.0,515.4 496.0,515.8C497.0,516.3 498.0,516.8 499.0,517.2C500.0,517.7 501.0,518.2 502.0,518.7C503.0,519.2 504.0,519.7 505.0,520.2C506.0,520.7 507.0,521.3 508.0,521.8C509.0,522.3 510.0,522.8 511.0,523.4C512.0,523.9 513.0,524.5 514.0,525.0C515.0,525.6 516.0,526.1 517.0,526.7C518.0,527.3 519.0,527.8 520.0,528.4C521.0,529.0 522.0,529.5 523.0,530.1C524.0,530.7 525.0,531.3 526.0,531.8C527.0,532.4 528.0,533.0 529.0,533.6C530.0,534.1 531.0,534.7 532.0,535.3C533.0,535.8 534.0,536.4 535.0,537.0C536.0,537.5 537.0,538.1 538.0,538.7C539.0,539.2 540.0,539.8 541.0,540.3C542.0,540.8 543.0,541.4 544.0,541.9C545.0,542.4 546.0,543.0 547.0,543.5C548.0,544.0 549.0,544.5 550.0,545.0C551.0,545.4 552.0,545.9 553.0,546.4C554.0,546.8 555.0,547.3 556.0,547.7C557.0,548.1 558.0,548.5 559.0,548.9C560.0,549.3 561.0,549.6 562.0,550.0C563.0,550.3 564.0,550.6 565.0,550.9C566.0,551.2 567.0,551.5 568.0,551.7C569.0,552.0 570.0,552.2 571.0,552.4C572.0,552.6 573.0,552.7 574.0,552.8C575.0,553.0 576.0,553.1 577.0,553.1C578.0,553.2 579.0,553.2 580.0,553.2C581.0,553.2 582.0,553.1 583.0,553.1C584.0,553.0 585.0,552.9 586.0,552.7C587.0,552.6 588.0,552.4 589.0,552.2C590.0,552.0 591.0,551.7 592.0,551.5C593.0,551.2 594.0,550.9 595.0,550.6C596.0,550.2 597.0,549.9 598.0,549.5C599.0,549.1 600.0,548.7 601.0,548.2C602.0,547.8 603.0,547.3 604.0,546.8C605.0,546.3 606.0,545.8 607.0,545.2C608.0,544.7 609.0,544.1 610.0,543.5C611.0,542.9 612.0,542.3 613.0,541.7C614.0,541.0 615.0,540.4 616.0,539.7C617.0,539.0 618.0,538.3 619.0,537.6C620.0,536.9 621.0,536.2 622.0,535.5C623.0,534.7 624.0,534.0 625.0,533.3C626.0,532.5 627.0,531.8 628.0,531.1C629.0,530.3 630.0,529.6 631.0,528.8C632.0,528.1 633.0,527.4 634.0,526.7C635.0,525.9 636.0,525.2 637.0,524.5C638.0,523.9 639.0,523.2 640.0,522.5C641.0,521.8 642.0,521.2 643.0,520.5C644.0,519.9 645.0,519.3 646.0,518.7C647.0,518.1 648.0,517.5 649.0,516.9C650.0,516.3 651.0,515.7 652.0,515.2C653.0,514.6 654.0,514.1 655.0,513.5C656.0,513.0 657.0,512.5 658.0,512.0C659.0,511.5 660.0,511.0 661.0,510.5C662.0,510.1 663.0,509.6 664.0,509.2C665.0,508.7 666.0,508.3 667.0,507.9C668.0,507.5 669.0,507.1 670.0,506.7C671.0,506.3 672.0,505.9 673.0,505.6C674.0,505.2 675.0,504.9 676.0,504.6C677.0,504.2 678.0,503.9 679.0,503.6C680.0,503.3 681.0,503.0 682.0,502.8C683.0,502.5 684.0,502.2 685.0,502.0C686.0,501.8 687.0,501.5 688.0,501.3C689.0,501.1 690.0,500.9 691.0,500.7C692.0,500.5 693.0,500.4 694.0,500.2C695.0,500.1 696.0,499.9 697.0,499.8C698.0,499.7 699.0,499.6 700.0,499.5C701.0,499.4 702.0,499.3 703.0,499.3C704.0,499.2 705.0,499.1 706.0,499.1C707.0,499.1 708.0,499.1 709.0,499.1C710.0,499.1 711.0,499.1 712.0,499.1C713.0,499.1 714.0,499.2 715.0,499.2C716.0,499.3 717.0,499.3 718.0,499.4C719.0,499.5 720.0,499.6 721.0,499.7C722.0,499.8 723.0,499.9 724.0,500.1C725.0,500.2 726.0,500.4 727.0,500.5C728.0,500.7 729.0,500.8 730.0,501.0C731.0,501.2 732.0,501.4 733.0,501.6C734.0,501.8 735.0,502.0 736.0,502.2C737.0,502.4 738.0,502.7 739.0,502.9C740.0,503.1 741.0,503.4 742.0,503.6C743.0,503.9 744.0,504.2 745.0,504.4C746.0,504.7 747.0,505.0 748.0,505.2C749.0,505.5 750.0,505.8 751.0,506.1C752.0,506.4 753.0,506.7 754.0,507.0C755.0,507.3 756.0,507.6 757.0,507.9C758.0,508.2 759.0,508.5 760.0,508.8C761.0,509.2 762.0,509.5 763.0,509.8C764.0,510.1 765.0,510.4 766.0,510.8C767.0,511.1 768.0,511.4 769.0,511.7C770.0,512.1 771.0,512.4 772.0,512.7C773.0,513.0 774.0,513.4 775.0,513.7C776.0,514.0 777.0,514.4 778.0,514.7C779.0,515.0 780.0,515.3 781.0,515.6C782.0,516.0 783.0,516.3 784.0,516.6C785.0,516.9 786.0,517.2 787.0,517.5C788.0,517.8 789.0,518.1 790.0,518.4C791.0,518.7 792.0,519.0 793.0,519.3C794.0,519.6 795.0,519.9 796.0,520.2C797.0,520.5 798.0,520.7 799.0,521.0C800.0,521.3 801.0,521.5 802.0,521.8C803.0,522.0 804.0,522.3 805.0,522.5C806.0,522.8 807.0,523.0 808.0,523.2C809.0,523.4 810.2,523.7 811.0,523.8C811.8,524.0 812.5,524.1 812.8,524.2" stroke="#00aaaa"/>
<path d="M85.0,100.9C85.5,101.3 87.0,102.5 88.0,103.3C89.0,104.1 90.0,104.9 91.0,105.7C92.0,106.5 93.0,107.4 94.0,108.2C95.0,109.1 96.0,110.0 97.0,110.9C98.0,111.8 99.0,112.7 100.0,113.6C101.0,114.5 102.0,115.5 103.0,116.4C104.0,117.4 105.0,118.4 106.0,119.4C107.0,120.4 108.0,121.4 109.0,122.5C110.0,123.5 111.0,124.6 112.0,125.7C113.0,126.7 114.0,127.8 115.0,128.9C116.0,130.1 117.0,131.2 118.0,132.4C119.0,133.5 120.0,134.7 121.0,135.9C122.0,137.1 123.0,138.3 124.0,139.5C125.0,140.7 126.0,142.0 127.0,143.2C128.0,144.5 129.0,145.8 130.0,147.1C131.0,148.4 132.0,149.7 133.0,151.1C134.0,152.4 135.0,153.8 136.0,155.2C137.0,156.6 138.0,158.0 139.0,159.4C140.0,160.8 141.0,162.2 142.0,163.7C143.0,165.2 144.0,166.7 145.0,168.2C146.0,169.7 147.0,171.2 148.0,172.7C149.0,174.3 150.0,175.8 151.0,177.4C152.0,179.0 153.0,180.6 154.0,182.2C155.0,183.9 156.0,185.5 157.0,187.2C158.0,188.9 159.0,190.5 160.0,192.2C161.0,194.0 162.0,195.7 163.0,197.4C164.0,199.2 165.0,201.0 166.0,202.8C167.0,204.5 168.0,206.4 169.0,208.2C170.0,210.0 171.0,211.9 172.0,213.8C173.0,215.6 174.0,217.5 175.0,219.5C176.0,221.4 177.0,223.3 178.0,225.3C179.0,227.3 180.0,229.3 181.0,231.3C182.0,233.3 183.0,235.3 184.0,237.4C185.0,239.4 186.0,241.5 187.0,243.6C188.0,245.7 189.0,247.8 190.0,250.0C191.0,252.1 192.0,254.3 193.0,256.5C194.0,258.7 195.0,260.9 196.0,263.1C197.0,265.4 198.0,267.6 199.0,269.9C200.0,272.2 201.0,274.5 202.0,276.9C203.0,279.2 204.0,281.6 205.0,284.0C206.0,286.3 207.0,288.8 208.0,291.2C209.0,293.6 210.0,296.1 211.0,298.6C212.0,301.1 213.0,303.6 214.0,306.2C215.0,308.7 216.0,311.3 217.0,313.9C218.0,316.5 219.0,319.1 220.0,321.7C221.0,324.4 222.0,327.1 223.0,329.8C224.0,332.5 225.0,335.2 226.0,338.0C227.0,340.7 228.0,343.5 229.0,346.3C230.0,349.2 231.0,352.0 232.0,354.9C233.0,357.8 234.0,360.7 235.0,363.6C236.0,366.5 237.0,369.5 238.0,372.5C239.0,375.5 240.0,378.5 241.0,381.5C242.0,384.6 243.0,387.6 244.0,390.7C245.0,393.8 246.0,397.0 247.0,400.1C248.0,403.3 249.0,406.4 250.0,409.6C251.0,412.8 252.0,416.0 253.0,419.2C254.0,422.4 255.0,425.7 256.0,428.9C257.0,432.2 258.0,435.4 259.0,438.7C260.0,442.0 261.0,445.3 262.0,448.5C263.0,451.7 264.0,455.0 265.0,458.2C266.0,461.3 267.0,464.5 268.0,467.6C269.0,470.7 270.0,473.7 271.0,476.6C272.0,479.5 273.0,482.4 274.0,485.1C275.0,487.8 276.0,490.5 277.0,493.0C278.0,495.5 279.0,497.8 280.0,500.1C281.0,502.3 282.0,504.4 283.0,506.4C284.0,508.4 285.0,510.3 286.0,512.1C287.0,513.9 288.0,515.5 289.0,517.1C290.0,518.6 291.0,520.0 292.0,521.4C293.0,522.7 294.0,523.9 295.0,525.1C296.0,526.2 297.0,527.2 298.0,528.1C299.0,529.1 300.0,529.9 301.0,530.7C302.0,531.4 303.0,532.0 304.0,532.6C305.0,533.2 306.0,533.7 307.0,534.1C308.0,534.5 309.0,534.8 310.0,535.0C311.0,535.3 312.0,535.5 313.0,535.6C314.0,535.7 315.0,535.8 316.0,535.8C317.0,535.8 318.0,535.7 319.0,535.7C320.0,535.6 321.0,535.5 322.0,535.4C323.0,535.2 324.0,535.1 325.0,534.9C326.0,534.7 327.0,534.5 328.0,534.3C329.0,534.1 330.0,533.9 331.0,533.6C332.0,533.4 333.0,533.2 334.0,533.0C335.0,532.8 336.0,532.6 337.0,532.4C338.0,532.1 339.0,531.9 340.0,531.7C341.0,531.5 342.0,531.2 343.0,531.0C344.0,530.8 345.0,530.5 346.0,530.3C347.0,530.0 348.0,529.8 349.0,529.5C350.0,529.2 351.0,529.0 352.0,528.7C353.0,528.4 354.0,528.1 355.0,527.9C356.0,527.6 357.0,527.3 358.0,527.0C359.0,526.7 360.0,526.4 361.0,526.1C362.0,525.8 363.0,525.4 364.0,525.1C365.0,524.8 366.0,524.5 367.0,524.2C368.0,523.8 369.0,523.5 370.0,523.2C371.0,522.9 372.0,522.5 373.0,522.2C374.0,521.9 375.0,521.5 376.0,521.2C377.0,520.9 378.0,520.6 379.0,520.2C380.0,519.9 381.0,519.6 382.0,519.2C383.0,518.9 384.0,518.6 385.0,518.3C386.0,517.9 387.0,517.6 388.0,517.3C389.0,517.0 390.0,516.7 391.0,516.4C392.0,516.0 393.0,515.7 394.0,515.4C395.0,515.1 396.0,514.8 397.0,514.5C398.0,514.2 399.0,513.9 400.0,513.7C401.0,513.4 402.0,513.1 403.0,512.8C404.0,512.6 405.0,512.3 406.0,512.0C407.0,511.8 408.0,511.5 409.0,511.3C410.0,511.0 411.0,510.8 412.0,510.5C413.0,510.3 414.0,510.1 415.0,509.8C416.0,509.6 417.0,509.4 418.0,509.2C419.0,509.0 420.0,508.8 421.0,508.6C422.0,508.4 423.0,508.2 424.0,508.0C425.0,507.9 426.0,507.7 427.0,507.5C428.0,507.4 429.0,507.2 430.0,507.1C431.0,507.0 432.0,506.8 433.0,506.7C434.0,506.6 435.0,506.5 436.0,506.4C437.0,506.3 438.0,506.2 439.0,506.1C440.0,506.1 441.0,506.0 442.0,506.0C443.0,505.9 444.0,505.9 445.0,505.8C446.0,505.8 447.0,505.8 448.0,505.8C449.0,505.8 450.0,505.8 451.0,505.8C452.0,505.8 453.0,505.8 454.0,505.9C455.0,505.9 456.0,506.0 457.0,506.1C458.0,506.1 459.0,506.2 460.0,506.3C461.0,506.4 462.0,506.5 463.0,506.7C464.0,506.8 465.0,506.9 466.0,507.1C467.0,507.3 468.0,507.4 469.0,507.6C470.0,507.8 471.0,508.0 472.0,508.2C473.0,508.5 474.0,508.7 475.0,508.9C476.0,509.2 477.0,509.5 478.0,509.7C479.0,510.0 480.0,510.3 481.0,510.7C482.0,511.0 483.0,511.3 484.0,511.7C485.0,512.0 486.0,512.4 487.0,512.8C488.0,513.1 489.0,513.5 490.0,514.0C491.0,514.4 492.0,514.8 493.0,515.2C494.0,515.7 495.0,516.1 496.0,516.6C497.0,517.0 498.0,517.5 499.0,518.0C500.0,518.5 501.0,519.0 502.0,519.5C503.0,520.0 504.0,520.5 505.0,521.0C506.0,521.5 507.0,522.0 508.0,522.6C509.0,523.1 510.0,523.6 511.0,524.2C512.0,524.7 513.0,525.3 514.0,525.8C515.0,526.4 516.0,526.9 517.0,527.5C518.0,528.1 519.0,528.6 520.0,529.2C521.0,529.8 522.0,530.3 523.0,530.9C524.0,531.5 525.0,532.1 526.0,532.6C527.0,533.2 528.0,533.8 529.0,534.4C530.0,534.9 531.0,535.5 532.0,536.1C533.0,536.7 534.0,537.2 535.0,537.8C536.0,538.4 537.0,538.9 538.0,539.5C539.0,540.0 540.0,540.6 541.0,541.2C542.0,541.7 543.0,542.2 544.0,542.8C545.0,543.3 546.0,543.8 547.0,544.3C548.0,544.9 549.0,545.4 550.0,545.9C551.0,546.3 552.0,546.8 553.0,547.3C554.0,547.7 555.0,548.2 556.0,548.6C557.0,549.0 558.0,549.4 559.0,549.8C560.0,550.2 561.0,550.6 562.0,550.9C563.0,551.3 564.0,551.6 565.0,551.9C566.0,552.2 567.0,552.5 568.0,552.7C569.0,553.0 570.0,553.2 571.0,553.4C572.0,553.6 573.0,553.7 574.0,553.9C575.0,554.0 576.0,554.1 577.0,554.2C578.0,554.2 579.0,554.3 580.0,554.3C581.0,554.3 582.0,554.2 583.0,554.2C584.0,554.1 585.0,554.0 586.0,553.8C587.0,553.7 588.0,553.5 589.0,553.3C590.0,553.1 591.0,552.9 592.0,552.6C593.0,552.3 594.0,552.0 595.0,551.7C596.0,551.4 597.0,551.0 598.0,550.6C599.0,550.2 600.0,549.8 601.0,549.4C602.0,548.9 603.0,548.4 604.0,547.9C605.0,547.4 606.0,546.9 607.0,546.4C608.0,545.8 609.0,545.2 610.0,544.6C611.0,544.0 612.0,543.4 613.0,542.8C614.0,542.1 615.0,541.5 616.0,540.8C617.0,540.1 618.0,539.4 619.0,538.7C620.0,538.0 621.0,537.3 622.0,536.5C623.0,535.8 624.0,535.0 625.0,534.3C626.0,533.6 627.0,532.8 628.0,532.1C629.0,531.3 630.0,530.6 631.0,529.8C632.0,529.1 633.0,528.3 634.0,527.6C635.0,526.9 636.0,526.2 637.0,525.5C638.0,524.8 639.0,524.1 640.0,523.4C641.0,522.7 642.0,522.0 643.0,521.4C644.0,520.8 645.0,520.1 646.0,519.5C647.0,518.9 648.0,518.3 649.0,517.7C650.0,517.1 651.0,516.5 652.0,516.0C653.0,515.4 654.0,514.8 655.0,514.3C656.0,513.8 657.0,513.3 658.0,512.8C659.0,512.3 660.0,511.8 661.0,511.3C662.0,510.8 663.0,510.4 664.0,509.9C665.0,509.5 666.0,509.0 667.0,508.6C668.0,508.2 669.0,507.8 670.0,507.4C671.0,507.0 672.0,506.6 673.0,506.3C674.0,505.9 675.0,505.6 676.0,505.2C677.0,504.9 678.0,504.6 679.0,504.3C680.0,504.0 681.0,503.7 682.0,503.4C683.0,503.2 684.0,502.9 685.0,502.7C686.0,502.4 687.0,502.2 688.0,502.0C689.0,501.8 690.0,501.6 691.0,501.4C692.0,501.2 693.0,501.0 694.0,500.9C695.0,500.7 696.0,500.6 697.0,500.5C698.0,500.4 699.0,500.3 700.0,500.2C701.0,500.1 702.0,500.0 703.0,499.9C704.0,499.9 705.0,499.8 706.0,499.8C707.0,499.8 708.0,499.8 709.0,499.8C710.0,499.7 711.0,499.8 712.0,499.8C713.0,499.8 714.0,499.9 715.0,499.9C716.0,500.0 717.0,500.1 718.0,500.2C719.0,500.2 720.0,500.3 721.0,500.5C722.0,500.6 723.0,500.7 724.0,500.8C725.0,501.0 726.0,501.1 727.0,501.3C728.0,501.5 729.0,501.6 730.0,501.8C731.0,502.0 732.0,502.2 733.0,502.4C734.0,502.6 735.0,502.8 736.0,503.1C737.0,503.3 738.0,503.5 739.0,503.8C740.0,504.0 741.0,504.3 742.0,504.5C743.0,504.8 744.0,505.1 745.0,505.3C746.0,505.6 747.0,505.9 748.0,506.2C749.0,506.5 750.0,506.8 751.0,507.1C752.0,507.4 753.0,507.7 754.0,508.0C755.0,508.3 756.0,508.6 757.0,508.9C758.0,509.2 759.0,509.6 760.0,509.9C761.0,510.2 762.0,510.6 763.0,510.9C764.0,511.2 765.0,511.5 766.0,511.9C767.0,512.2 768.0,512.6 769.0,512.9C770.0,513.2 771.0,513.6 772.0,513.9C773.0,514.2 774.0,514.6 775.0,514.9C776.0,515.3 777.0,515.6 778.0,515.9C779.0,516.3 780.0,516.6 781.0,516.9C782.0,517.3 783.0,517.6 784.0,517.9C785.0,518.3 786.0,518.6 787.0,518.9C788.0,519.2 789.0,519.5 790.0,519.9C791.0,520.2 792.0,520.5 793.0,520.8C794.0,521.1 795.0,521.4 796.0,521.7C797.0,522.0 798.0,522.3 799.0,522.5C800.0,522.8 801.0,523.1 802.0,523.4C803.0,523.6 804.0,523.9 805.0,524.1C806.0,524.4 807.0,524.6 808.0,524.8C809.0,525.1 810.2,525.3 811.0,525.5C811.8,525.7 812.5,525.8 812.8,525.9" stroke="#000000"/>
<path d="M85.0,100.6C85.5,100.9 87.0,102.1 88.0,102.8C89.0,103.6 90.0,104.4 91.0,105.2C92.0,105.9 93.0,106.8 94.0,107.6C95.0,108.4 96.0,109.3 97.0,110.1C98.0,111.0 99.0,111.8 100.0,112.7C101.0,113.6 102.0,114.5 103.0,115.5C104.0,116.4 105.0,117.3 106.0,118.3C107.0,119.2 108.0,120.2 109.0,121.2C110.0,122.2 111.0,123.2 112.0,124.2C113.0,125.3 114.0,126.3 115.0,127.4C116.0,128.4 117.0,129.5 118.0,130.6C119.0,131.7 120.0,132.8 121.0,133.9C122.0,135.1 123.0,136.2 124.0,137.4C125.0,138.5 126.0,139.7 127.0,140.9C128.0,142.1 129.0,143.4 130.0,144.6C131.0,145.8 132.0,147.1 133.0,148.4C134.0,149.6 135.0,150.9 136.0,152.2C137.0,153.6 138.0,154.9 139.0,156.2C140.0,157.6 141.0,159.0 142.0,160.3C143.0,161.7 144.0,163.1 145.0,164.6C146.0,166.0 147.0,167.4 148.0,168.9C149.0,170.4 150.0,171.9 151.0,173.4C152.0,174.9 153.0,176.4 154.0,177.9C155.0,179.5 156.0,181.0 157.0,182.6C158.0,184.2 159.0,185.8 160.0,187.4C161.0,189.1 162.0,190.7 163.0,192.4C164.0,194.0 165.0,195.7 166.0,197.4C167.0,199.1 168.0,200.9 169.0,202.6C170.0,204.3 171.0,206.1 172.0,207.9C173.0,209.6 174.0,211.4 175.0,213.2C176.0,215.0 177.0,216.8 178.0,218.6C179.0,220.4 180.0,222.2 181.0,224.0C182.0,225.8 183.0,227.6 184.0,229.4C185.0,231.2 186.0,233.0 187.0,234.8C188.0,236.6 189.0,238.4 190.0,240.2C191.0,241.9 192.0,243.7 193.0,245.5C194.0,247.2 195.0,248.9 196.0,250.7C197.0,252.4 198.0,254.1 199.0,255.7C200.0,257.4 201.0,259.1 202.0,260.7C203.0,262.3 204.0,263.9 205.0,265.5C206.0,267.1 207.0,268.6 208.0,270.1C209.0,271.6 210.0,273.1 211.0,274.5C212.0,275.9 213.0,277.3 214.0,278.7C215.0,280.0 216.0,281.4 217.0,282.6C218.0,283.9 219.0,285.1 220.0,286.3C221.0,287.5 222.0,288.6 223.0,289.7C224.0,290.7 225.0,291.8 226.0,292.7C227.0,293.7 228.0,294.6 229.0,295.5C230.0,296.4 231.0,297.2 232.0,298.0C233.0,298.8 234.0,299.6 235.0,300.3C236.0,301.0 237.0,301.7 238.0,302.3C239.0,302.9 240.0,303.5 241.0,304.1C242.0,304.6 243.0,305.2 244.0,305.7C245.0,306.1 246.0,306.6 247.0,307.0C248.0,307.4 249.0,307.8 250.0,308.2C251.0,308.5 252.0,308.9 253.0,309.2C254.0,309.5 255.0,309.7 256.0,310.0C257.0,310.2 258.0,310.4 259.0,310.6C260.0,310.8 261.0,311.0 262.0,311.1C263.0,311.3 264.0,311.4 265.0,311.5C266.0,311.6 267.0,311.7 268.0,311.8C269.0,311.9 270.0,311.9 271.0,312.0C272.0,312.0 273.0,312.0 274.0,312.0C275.0,312.0 276.0,312.0 277.0,312.0C278.0,312.0 279.0,312.0 280.0,311.9C281.0,311.9 282.0,311.9 283.0,311.8C284.0,311.8 285.0,311.7 286.0,311.6C287.0,311.6 288.0,311.5 289.0,311.5C290.0,311.4 291.0,311.3 292.0,311.2C293.0,311.2 294.0,311.1 295.0,311.0C296.0,310.9 297.0,310.8 298.0,310.8C299.0,310.7 300.0,310.6 301.0,310.5C302.0,310.4 303.0,310.3 304.0,310.2C305.0,310.1 306.0,310.0 307.0,309.9C308.0,309.8 309.0,309.7 310.0,309.6C311.0,309.5 312.0,309.4 313.0,309.3C314.0,309.2 315.0,309.1 316.0,309.0C317.0,308.9 318.0,308.8 319.0,308.7C320.0,308.6 321.0,308.5 322.0,308.3C323.0,308.2 324.0,308.1 325.0,308.0C326.0,307.9 327.0,307.8 328.0,307.6C329.0,307.5 330.0,307.4 331.0,307.3C332.0,307.2 333.0,307.0 334.0,306.9C335.0,306.8 336.0,306.7 337.0,306.6C338.0,306.4 339.0,306.3 340.0,306.2C341.0,306.1 342.0,305.9 343.0,305.8C344.0,305.7 345.0,305.6 346.0,305.4C347.0,305.3 348.0,305.2 349.0,305.0C350.0,304.9 351.0,304.8 352.0,304.7C353.0,304.5 354.0,304.4 355.0,304.3C356.0,304.2 357.0,304.0 358.0,303.9C359.0,303.8 360.0,303.6 361.0,303.5C362.0,303.4 363.0,303.3 364.0,303.1C365.0,303.0 366.0,302.9 367.0,302.8C368.0,302.6 369.0,302.5 370.0,302.4C371.0,302.3 372.0,302.2 373.0,302.0C374.0,301.9 375.0,301.8 376.0,301.7C377.0,301.6 378.0,301.4 379.0,301.3C380.0,301.2 381.0,301.1 382.0,301.0C383.0,300.9 384.0,300.7 385.0,300.6C386.0,300.5 387.0,300.4 388.0,300.3C389.0,300.2 390.0,300.1 391.0,300.0C392.0,299.9 393.0,299.8 394.0,299.6C395.0,299.5 396.0,299.4 397.0,299.3C398.0,299.2 399.0,299.1 400.0,299.0C401.0,298.9 402.0,298.8 403.0,298.7C404.0,298.6 405.0,298.5 406.0,298.4C407.0,298.3 408.0,298.2 409.0,298.1C410.0,298.0 411.0,298.0 412.0,297.9C413.0,297.8 414.0,297.7 415.0,297.6C416.0,297.5 417.0,297.4 418.0,297.3C419.0,297.2 420.0,297.1 421.0,297.1C422.0,297.0 423.0,296.9 424.0,296.8C425.0,296.7 426.0,296.6 427.0,296.5C428.0,296.5 429.0,296.4 430.0,296.3C431.0,296.2 432.0,296.1 433.0,296.1C434.0,296.0 435.0,295.9 436.0,295.8C437.0,295.8 438.0,295.7 439.0,295.6C440.0,295.5 441.0,295.5 442.0,295.4C443.0,295.3 444.0,295.2 445.0,295.2C446.0,295.1 447.0,295.0 448.0,295.0C449.0,294.9 450.0,294.8 451.0,294.7C452.0,294.7 453.0,294.6 454.0,294.5C455.0,294.5 456.0,294.4 457.0,294.4C458.0,294.3 459.0,294.2 460.0,294.2C461.0,294.1 462.0,294.0 463.0,294.0C464.0,293.9 465.0,293.9 466.0,293.8C467.0,293.7 468.0,293.7 469.0,293.6C470.0,293.6 471.0,293.5 472.0,293.5C473.0,293.4 474.0,293.4 475.0,293.3C476.0,293.2 477.0,293.2 478.0,293.1C479.0,293.1 480.0,293.0 481.0,293.0C482.0,292.9 483.0,292.9 484.0,292.8C485.0,292.8 486.0,292.7 487.0,292.7C488.0,292.6 489.0,292.6 490.0,292.6C491.0,292.5 492.0,292.5 493.0,292.4C494.0,292.4 495.0,292.3 496.0,292.3C497.0,292.2 498.0,292.2 499.0,292.2C500.0,292.1 501.0,292.1 502.0,292.0C503.0,292.0 504.0,292.0 505.0,291.9C506.0,291.9 507.0,291.8 508.0,291.8C509.0,291.8 510.0,291.7 511.0,291.7C512.0,291.7 513.0,291.6 514.0,291.6C515.0,291.6 516.0,291.5 517.0,291.5C518.0,291.5 519.0,291.4 520.0,291.4C521.0,291.4 522.0,291.3 523.0,291.3C524.0,291.3 525.0,291.2 526.0,291.2C527.0,291.2 528.0,291.1 529.0,291.1C530.0,291.1 531.0,291.1 532.0,291.0C533.0,291.0 534.0,291.0 535.0,291.0C536.0,290.9 537.0,290.9 538.0,290.9C539.0,290.9 540.0,290.8 541.0,290.8C542.0,290.8 543.0,290.8 544.0,290.7C545.0,290.7 546.0,290.7 547.0,290.7C548.0,290.7 549.0,290.6 550.0,290.6C551.0,290.6 552.0,290.6 553.0,290.5C554.0,290.5 555.0,290.5 556.0,290.5C557.0,290.5 558.0,290.5 559.0,290.4C560.0,290.4 561.0,290.4 562.0,290.4C563.0,290.4 564.0,290.4 565.0,290.3C566.0,290.3 567.0,290.3 568.0,290.3C569.0,290.3 570.0,290.3 571.0,290.3C572.0,290.2 573.0,290.2 574.0,290.2C575.0,290.2 576.0,290.2 577.0,290.2C578.0,290.2 579.0,290.2 580.0,290.1C581.0,290.1 582.0,290.1 583.0,290.1C584.0,290.1 585.0,290.1 586.0,290.1C587.0,290.1 588.0,290.1 589.0,290.1C590.0,290.0 591.0,290.0 592.0,290.0C593.0,290.0 594.0,290.0 595.0,290.0C596.0,290.0 597.0,290.0 598.0,290.0C599.0,290.0 600.0,290.0 601.0,290.0C602.0,290.0 603.0,290.0 604.0,290.0C605.0,289.9 606.0,289.9 607.0,289.9C608.0,289.9 609.0,289.9 610.0,289.9C611.0,289.9 612.0,289.9 613.0,289.9C614.0,289.9 615.0,289.9 616.0,289.9C617.0,289.9 618.0,289.9 619.0,289.9C620.0,289.9 621.0,289.9 622.0,289.9C623.0,289.9 624.0,289.9 625.0,289.9C626.0,289.9 627.0,289.9 628.0,289.9C629.0,289.9 630.0,289.9 631.0,289.9C632.0,289.9 633.0,289.9 634.0,289.9C635.0,289.9 636.0,289.9 637.0,289.9C638.0,289.9 639.0,289.9 640.0,289.9C641.0,289.9 642.0,289.9 643.0,289.9C644.0,289.9 645.0,289.9 646.0,289.9C647.0,289.9 648.0,289.9 649.0,289.9C650.0,289.9 651.0,289.9 652.0,289.9C653.0,289.9 654.0,289.9 655.0,289.9C656.0,289.9 657.0,289.9 658.0,289.9C659.0,289.9 660.0,289.9 661.0,289.9C662.0,289.9 663.0,289.9 664.0,289.9C665.0,289.9 666.0,289.9 667.0,289.9C668.0,289.9 669.0,289.9 670.0,289.9C671.0,289.9 672.0,289.9 673.0,290.0C674.0,290.0 675.0,290.0 676.0,290.0C677.0,290.0 678.0,290.0 679.0,290.0C680.0,290.0 681.0,290.0 682.0,290.0C683.0,290.0 684.0,290.0 685.0,290.0C686.0,290.0 687.0,290.0 688.0,290.0C689.0,290.0 690.0,290.0 691.0,290.0C692.0,290.0 693.0,290.0 694.0,290.0C695.0,290.0 696.0,290.0 697.0,290.0C698.0,290.0 699.0,290.0 700.0,290.0C701.0,290.0 702.0,290.1 703.0,290.1C704.0,290.1 705.0,290.1 706.0,290.1C707.0,290.1 708.0,290.1 709.0,290.1C710.0,290.1 711.0,290.1 712.0,290.1C713.0,290.1 714.0,290.1 715.0,290.1C716.0,290.1 717.0,290.1 718.0,290.1C719.0,290.1 720.0,290.1 721.0,290.1C722.0,290.1 723.0,290.1 724.0,290.1C725.0,290.1 726.0,290.1 727.0,290.1C728.0,290.1 729.0,290.1 730.0,290.1C731.0,290.1 732.0,290.1 733.0,290.1C734.0,290.1 735.0,290.1 736.0,290.1C737.0,290.1 738.0,290.1 739.0,290.1C740.0,290.1 741.0,290.1 742.0,290.1C743.0,290.1 744.0,290.1 745.0,290.1C746.0,290.1 747.0,290.1 748.0,290.1C749.0,290.1 750.0,290.1 751.0,290.1C752.0,290.1 753.0,290.1 754.0,290.1C755.0,290.1 756.0,290.1 757.0,290.1C758.0,290.1 759.0,290.1 760.0,290.1C761.0,290.1 762.0,290.1 763.0,290.1C764.0,290.1 765.0,290.1 766.0,290.1C767.0,290.1 768.0,290.1 769.0,290.1C770.0,290.1 771.0,290.0 772.0,290.0C773.0,290.0 774.0,290.0 775.0,290.0C776.0,290.0 777.0,290.0 778.0,290.0C779.0,290.0 780.0,290.0 781.0,290.0C782.0,290.0 783.0,290.0 784.0,290.0C785.0,289.9 786.0,289.9 787.0,289.9C788.0,289.9 789.0,289.9 790.0,289.9C791.0,289.9 792.0,289.9 793.0,289.9C794.0,289.9 795.0,289.8 796.0,289.8C797.0,289.8 798.0,289.8 799.0,289.8C800.0,289.8 801.0,289.8 802.0,289.8C803.0,289.7 804.0,289.7 805.0,289.7C806.0,289.7 807.0,289.7 808.0,289.7C809.0,289.7 810.2,289.6 811.0,289.6C811.8,289.6 812.5,289.6 812.8,289.6" stroke="#000000" stroke-dasharray="5.9 2.9"/>
<path d="M85.0,101.1C85.5,101.5 87.0,102.6 88.0,103.4C89.0,104.2 90.0,105.0 91.0,105.8C92.0,106.6 93.0,107.4 94.0,108.3C95.0,109.1 96.0,110.0 97.0,110.8C98.0,111.7 99.0,112.6 100.0,113.5C101.0,114.4 102.0,115.3 103.0,116.3C104.0,117.2 105.0,118.2 106.0,119.1C107.0,120.1 108.0,121.1 109.0,122.1C110.0,123.1 111.0,124.1 112.0,125.1C113.0,126.2 114.0,127.2 115.0,128.3C116.0,129.4 117.0,130.5 118.0,131.6C119.0,132.7 120.0,133.8 121.0,134.9C122.0,136.1 123.0,137.3 124.0,138.4C125.0,139.6 126.0,140.8 127.0,142.0C128.0,143.3 129.0,144.5 130.0,145.8C131.0,147.0 132.0,148.3 133.0,149.6C134.0,150.9 135.0,152.2 136.0,153.6C137.0,154.9 138.0,156.3 139.0,157.6C140.0,159.0 141.0,160.4 142.0,161.8C143.0,163.3 144.0,164.7 145.0,166.2C146.0,167.6 147.0,169.1 148.0,170.6C149.0,172.1 150.0,173.7 151.0,175.2C152.0,176.8 153.0,178.4 154.0,180.0C155.0,181.6 156.0,183.2 157.0,184.8C158.0,186.5 159.0,188.1 160.0,189.8C161.0,191.5 162.0,193.2 163.0,195.0C164.0,196.7 165.0,198.5 166.0,200.2C167.0,202.0 168.0,203.8 169.0,205.7C170.0,207.5 171.0,209.3 172.0,211.2C173.0,213.1 174.0,215.0 175.0,216.9C176.0,218.8 177.0,220.7 178.0,222.6C179.0,224.5 180.0,226.5 181.0,228.4C182.0,230.4 183.0,232.3 184.0,234.3C185.0,236.3 186.0,238.2 187.0,240.2C188.0,242.2 189.0,244.2 190.0,246.2C191.0,248.1 192.0,250.1 193.0,252.1C194.0,254.1 195.0,256.1 196.0,258.1C197.0,260.0 198.0,262.0 199.0,264.0C200.0,266.0 201.0,267.9 202.0,269.9C203.0,271.8 204.0,273.8 205.0,275.7C206.0,277.7 207.0,279.6 208.0,281.5C209.0,283.4 210.0,285.3 211.0,287.2C212.0,289.0 213.0,290.9 214.0,292.8C215.0,294.6 216.0,296.4 217.0,298.2C218.0,300.0 219.0,301.8 220.0,303.6C221.0,305.3 222.0,307.0 223.0,308.7C224.0,310.5 225.0,312.1 226.0,313.8C227.0,315.5 228.0,317.1 229.0,318.7C230.0,320.3 231.0,321.9 232.0,323.4C233.0,325.0 234.0,326.5 235.0,328.0C236.0,329.4 237.0,330.9 238.0,332.3C239.0,333.7 240.0,335.1 241.0,336.5C242.0,337.9 243.0,339.2 244.0,340.5C245.0,341.8 246.0,343.0 247.0,344.2C248.0,345.5 249.0,346.6 250.0,347.8C251.0,348.9 252.0,350.0 253.0,351.1C254.0,352.2 255.0,353.2 256.0,354.2C257.0,355.2 258.0,356.1 259.0,357.1C260.0,358.0 261.0,358.9 262.0,359.8C263.0,360.6 264.0,361.4 265.0,362.3C266.0,363.1 267.0,363.8 268.0,364.6C269.0,365.3 270.0,366.1 271.0,366.8C272.0,367.5 273.0,368.1 274.0,368.8C275.0,369.5 276.0,370.1 277.0,370.7C278.0,371.4 279.0,372.0 280.0,372.6C281.0,373.2 282.0,373.8 283.0,374.3C284.0,374.9 285.0,375.5 286.0,376.0C287.0,376.6 288.0,377.1 289.0,377.6C290.0,378.2 291.0,378.7 292.0,379.2C293.0,379.8 294.0,380.3 295.0,380.8C296.0,381.3 297.0,381.8 298.0,382.3C299.0,382.8 300.0,383.3 301.0,383.8C302.0,384.3 303.0,384.8 304.0,385.3C305.0,385.8 306.0,386.3 307.0,386.7C308.0,387.2 309.0,387.7 310.0,388.2C311.0,388.6 312.0,389.1 313.0,389.6C314.0,390.0 315.0,390.5 316.0,390.9C317.0,391.4 318.0,391.9 319.0,392.3C320.0,392.8 321.0,393.2 322.0,393.6C323.0,394.1 324.0,394.5 325.0,395.0C326.0,395.4 327.0,395.9 328.0,396.3C329.0,396.7 330.0,397.2 331.0,397.6C332.0,398.0 333.0,398.5 334.0,398.9C335.0,399.3 336.0,399.8 337.0,400.2C338.0,400.6 339.0,401.0 340.0,401.5C341.0,401.9 342.0,402.3 343.0,402.7C344.0,403.1 345.0,403.6 346.0,404.0C347.0,404.4 348.0,404.8 349.0,405.2C350.0,405.6 351.0,406.1 352.0,406.5C353.0,406.9 354.0,407.3 355.0,407.7C356.0,408.1 357.0,408.5 358.0,408.9C359.0,409.3 360.0,409.7 361.0,410.1C362.0,410.5 363.0,410.9 364.0,411.3C365.0,411.7 366.0,412.1 367.0,412.4C368.0,412.8 369.0,413.2 370.0,413.6C371.0,414.0 372.0,414.3 373.0,414.7C374.0,415.1 375.0,415.4 376.0,415.8C377.0,416.2 378.0,416.5 379.0,416.9C380.0,417.2 381.0,417.6 382.0,417.9C383.0,418.3 384.0,418.6 385.0,419.0C386.0,419.3 387.0,419.7 388.0,420.0C389.0,420.3 390.0,420.7 391.0,421.0C392.0,421.3 393.0,421.6 394.0,421.9C395.0,422.3 396.0,422.6 397.0,422.9C398.0,423.2 399.0,423.5 400.0,423.8C401.0,424.1 402.0,424.4 403.0,424.6C404.0,424.9 405.0,425.2 406.0,425.5C407.0,425.8 408.0,426.0 409.0,426.3C410.0,426.6 411.0,426.8 412.0,427.1C413.0,427.3 414.0,427.6 415.0,427.8C416.0,428.1 417.0,428.3 418.0,428.6C419.0,428.8 420.0,429.0 421.0,429.2C422.0,429.5 423.0,429.7 424.0,429.9C425.0,430.1 426.0,430.3 427.0,430.6C428.0,430.8 429.0,431.0 430.0,431.2C431.0,431.4 432.0,431.6 433.0,431.7C434.0,431.9 435.0,432.1 436.0,432.3C437.0,432.5 438.0,432.7 439.0,432.8C440.0,433.0 441.0,433.2 442.0,433.4C443.0,433.5 444.0,433.7 445.0,433.8C446.0,434.0 447.0,434.2 448.0,434.3C449.0,434.5 450.0,434.6 451.0,434.7C452.0,434.9 453.0,435.0 454.0,435.2C455.0,435.3 456.0,435.4 457.0,435.6C458.0,435.7 459.0,435.8 460.0,435.9C461.0,436.1 462.0,436.2 463.0,436.3C464.0,436.4 465.0,436.5 466.0,436.6C467.0,436.7 468.0,436.9 469.0,437.0C470.0,437.1 471.0,437.2 472.0,437.3C473.0,437.4 474.0,437.4 475.0,437.5C476.0,437.6 477.0,437.7 478.0,437.8C479.0,437.9 480.0,438.0 481.0,438.1C482.0,438.1 483.0,438.2 484.0,438.3C485.0,438.4 486.0,438.4 487.0,438.5C488.0,438.6 489.0,438.6 490.0,438.7C491.0,438.8 492.0,438.8 493.0,438.9C494.0,439.0 495.0,439.0 496.0,439.1C497.0,439.1 498.0,439.2 499.0,439.2C500.0,439.3 501.0,439.3 502.0,439.4C503.0,439.4 504.0,439.5 505.0,439.5C506.0,439.6 507.0,439.6 508.0,439.6C509.0,439.7 510.0,439.7 511.0,439.7C512.0,439.8 513.0,439.8 514.0,439.9C515.0,439.9 516.0,439.9 517.0,439.9C518.0,440.0 519.0,440.0 520.0,440.0C521.0,440.1 522.0,440.1 523.0,440.1C524.0,440.1 525.0,440.2 526.0,440.2C527.0,440.2 528.0,440.2 529.0,440.2C530.0,440.3 531.0,440.3 532.0,440.3C533.0,440.3 534.0,440.3 535.0,440.3C536.0,440.4 537.0,440.4 538.0,440.4C539.0,440.4 540.0,440.4 541.0,440.4C542.0,440.4 543.0,440.4 544.0,440.5C545.0,440.5 546.0,440.5 547.0,440.5C548.0,440.5 549.0,440.5 550.0,440.5C551.0,440.5 552.0,440.5 553.0,440.5C554.0,440.5 555.0,440.5 556.0,440.6C557.0,440.6 558.0,440.6 559.0,440.6C560.0,440.6 561.0,440.6 562.0,440.6C563.0,440.6 564.0,440.6 565.0,440.6C566.0,440.6 567.0,440.6 568.0,440.6C569.0,440.6 570.0,440.6 571.0,440.7C572.0,440.7 573.0,440.7 574.0,440.7C575.0,440.7 576.0,440.7 577.0,440.7C578.0,440.7 579.0,440.7 580.0,440.7C581.0,440.7 582.0,440.7 583.0,440.8C584.0,440.8 585.0,440.8 586.0,440.8C587.0,440.8 588.0,440.8 589.0,440.8C590.0,440.8 591.0,440.8 592.0,440.9C593.0,440.9 594.0,440.9 595.0,440.9C596.0,440.9 597.0,440.9 598.0,440.9C599.0,441.0 600.0,441.0 601.0,441.0C602.0,441.0 603.0,441.0 604.0,441.0C605.0,441.0 606.0,441.1 607.0,441.1C608.0,441.1 609.0,441.1 610.0,441.1C611.0,441.1 612.0,441.2 613.0,441.2C614.0,441.2 615.0,441.2 616.0,441.2C617.0,441.2 618.0,441.2 619.0,441.3C620.0,441.3 621.0,441.3 622.0,441.3C623.0,441.3 624.0,441.3 625.0,441.3C626.0,441.4 627.0,441.4 628.0,441.4C629.0,441.4 630.0,441.4 631.0,441.4C632.0,441.4 633.0,441.5 634.0,441.5C635.0,441.5 636.0,441.5 637.0,441.5C638.0,441.5 639.0,441.5 640.0,441.5C641.0,441.6 642.0,441.6 643.0,441.6C644.0,441.6 645.0,441.6 646.0,441.6C647.0,441.6 648.0,441.6 649.0,441.6C650.0,441.6 651.0,441.6 652.0,441.6C653.0,441.6 654.0,441.7 655.0,441.7C656.0,441.7 657.0,441.7 658.0,441.7C659.0,441.7 660.0,441.7 661.0,441.7C662.0,441.7 663.0,441.7 664.0,441.7C665.0,441.7 666.0,441.7 667.0,441.7C668.0,441.7 669.0,441.7 670.0,441.7C671.0,441.7 672.0,441.7 673.0,441.7C674.0,441.6 675.0,441.6 676.0,441.6C677.0,441.6 678.0,441.6 679.0,441.6C680.0,441.6 681.0,441.6 682.0,441.6C683.0,441.6 684.0,441.5 685.0,441.5C686.0,441.5 687.0,441.5 688.0,441.5C689.0,441.5 690.0,441.4 691.0,441.4C692.0,441.4 693.0,441.4 694.0,441.4C695.0,441.3 696.0,441.3 697.0,441.3C698.0,441.3 699.0,441.3 700.0,441.2C701.0,441.2 702.0,441.2 703.0,441.2C704.0,441.1 705.0,441.1 706.0,441.1C707.0,441.1 708.0,441.0 709.0,441.0C710.0,441.0 711.0,441.0 712.0,440.9C713.0,440.9 714.0,440.9 715.0,440.9C716.0,440.8 717.0,440.8 718.0,440.8C719.0,440.8 720.0,440.7 721.0,440.7C722.0,440.7 723.0,440.7 724.0,440.6C725.0,440.6 726.0,440.6 727.0,440.6C728.0,440.5 729.0,440.5 730.0,440.5C731.0,440.5 732.0,440.4 733.0,440.4C734.0,440.4 735.0,440.4 736.0,440.4C737.0,440.3 738.0,440.3 739.0,440.3C740.0,440.3 741.0,440.2 742.0,440.2C743.0,440.2 744.0,440.2 745.0,440.2C746.0,440.2 747.0,440.1 748.0,440.1C749.0,440.1 750.0,440.1 751.0,440.1C752.0,440.1 753.0,440.1 754.0,440.0C755.0,440.0 756.0,440.0 757.0,440.0C758.0,440.0 759.0,440.0 760.0,440.0C761.0,440.0 762.0,440.0 763.0,440.0C764.0,440.0 765.0,440.0 766.0,440.0C767.0,440.0 768.0,440.0 769.0,440.0C770.0,440.0 771.0,440.0 772.0,440.0C773.0,440.0 774.0,440.0 775.0,440.0C776.0,440.0 777.0,440.0 778.0,440.0C779.0,440.0 780.0,440.1 781.0,440.1C782.0,440.1 783.0,440.1 784.0,440.1C785.0,440.2 786.0,440.2 787.0,440.2C788.0,440.2 789.0,440.3 790.0,440.3C791.0,440.3 792.0,440.3 793.0,440.4C794.0,440.4 795.0,440.4 796.0,440.5C797.0,440.5 798.0,440.6 799.0,440.6C800.0,440.7 801.0,440.7 802.0,440.8C803.0,440.8 804.0,440.9 805.0,440.9C806.0,441.0 807.0,441.0 808.0,441.1C809.0,441.1 810.2,441.2 811.0,441.3C811.8,441.3 812.5,441.4 812.8,441.4" stroke="#ff0000" stroke-dasharray="5.9 2.9"/>
</g>
<g stroke="#000" stroke-width="2.4" fill="none">
<line x1="85" y1="3.4" x2="85" y2="571.4"/>
<line x1="70" y1="559.9" x2="827" y2="559.9"/>
</g>
<g stroke="#000" stroke-width="2" fill="none">
<line x1="94.70" y1="559.9" x2="94.70" y2="555.90"/>
<line x1="114.10" y1="559.9" x2="114.10" y2="555.90"/>
<line x1="133.50" y1="559.9" x2="133.50" y2="552.50"/>
<line x1="152.90" y1="559.9" x2="152.90" y2="555.90"/>
<line x1="172.30" y1="559.9" x2="172.30" y2="555.90"/>
<line x1="191.70" y1="559.9" x2="191.70" y2="555.90"/>
<line x1="211.10" y1="559.9" x2="211.10" y2="555.90"/>
<line x1="230.50" y1="559.9" x2="230.50" y2="552.50"/>
<line x1="249.90" y1="559.9" x2="249.90" y2="555.90"/>
<line x1="269.30" y1="559.9" x2="269.30" y2="555.90"/>
<line x1="288.70" y1="559.9" x2="288.70" y2="555.90"/>
<line x1="308.10" y1="559.9" x2="308.10" y2="555.90"/>
<line x1="327.50" y1="559.9" x2="327.50" y2="552.50"/>
<line x1="346.90" y1="559.9" x2="346.90" y2="555.90"/>
<line x1="366.30" y1="559.9" x2="366.30" y2="555.90"/>
<line x1="385.70" y1="559.9" x2="385.70" y2="555.90"/>
<line x1="405.10" y1="559.9" x2="405.10" y2="555.90"/>
<line x1="424.50" y1="559.9" x2="424.50" y2="552.50"/>
<line x1="443.90" y1="559.9" x2="443.90" y2="555.90"/>
<line x1="463.30" y1="559.9" x2="463.30" y2="555.90"/>
<line x1="482.70" y1="559.9" x2="482.70" y2="555.90"/>
<line x1="502.10" y1="559.9" x2="502.10" y2="555.90"/>
<line x1="521.50" y1="559.9" x2="521.50" y2="552.50"/>
<line x1="540.90" y1="559.9" x2="540.90" y2="555.90"/>
<line x1="560.30" y1="559.9" x2="560.30" y2="555.90"/>
<line x1="579.70" y1="559.9" x2="579.70" y2="555.90"/>
<line x1="599.10" y1="559.9" x2="599.10" y2="555.90"/>
<line x1="618.50" y1="559.9" x2="618.50" y2="552.50"/>
<line x1="637.90" y1="559.9" x2="637.90" y2="555.90"/>
<line x1="657.30" y1="559.9" x2="657.30" y2="555.90"/>
<line x1="676.70" y1="559.9" x2="676.70" y2="555.90"/>
<line x1="696.10" y1="559.9" x2="696.10" y2="555.90"/>
<line x1="715.50" y1="559.9" x2="715.50" y2="552.50"/>
<line x1="734.90" y1="559.9" x2="734.90" y2="555.90"/>
<line x1="754.30" y1="559.9" x2="754.30" y2="555.90"/>
<line x1="773.70" y1="559.9" x2="773.70" y2="555.90"/>
<line x1="793.10" y1="559.9" x2="793.10" y2="555.90"/>
<line x1="812.50" y1="559.9" x2="812.50" y2="552.50"/>
<line x1="85" y1="25.40" x2="92.40" y2="25.40"/>
<line x1="85" y1="126.25" x2="92.40" y2="126.25"/>
<line x1="85" y1="95.89" x2="89.00" y2="95.89"/>
<line x1="85" y1="78.13" x2="89.00" y2="78.13"/>
<line x1="85" y1="65.53" x2="89.00" y2="65.53"/>
<line x1="85" y1="55.76" x2="89.00" y2="55.76"/>
<line x1="85" y1="47.77" x2="89.00" y2="47.77"/>
<line x1="85" y1="41.02" x2="89.00" y2="41.02"/>
<line x1="85" y1="35.17" x2="89.00" y2="35.17"/>
<line x1="85" y1="30.01" x2="89.00" y2="30.01"/>
<line x1="85" y1="227.10" x2="92.40" y2="227.10"/>
<line x1="85" y1="196.74" x2="89.00" y2="196.74"/>
<line x1="85" y1="178.98" x2="89.00" y2="178.98"/>
<line x1="85" y1="166.38" x2="89.00" y2="166.38"/>
<line x1="85" y1="156.61" x2="89.00" y2="156.61"/>
<line x1="85" y1="148.62" x2="89.00" y2="148.62"/>
<line x1="85" y1="141.87" x2="89.00" y2="141.87"/>
<line x1="85" y1="136.02" x2="89.00" y2="136.02"/>
<line x1="85" y1="130.86" x2="89.00" y2="130.86"/>
<line x1="85" y1="327.95" x2="92.40" y2="327.95"/>
<line x1="85" y1="297.59" x2="89.00" y2="297.59"/>
<line x1="85" y1="279.83" x2="89.00" y2="279.83"/>
<line x1="85" y1="267.23" x2="89.00" y2="267.23"/>
<line x1="85" y1="257.46" x2="89.00" y2="257.46"/>
<line x1="85" y1="249.47" x2="89.00" y2="249.47"/>
<line x1="85" y1="242.72" x2="89.00" y2="242.72"/>
<line x1="85" y1="236.87" x2="89.00" y2="236.87"/>
<line x1="85" y1="231.71" x2="89.00" y2="231.71"/>
<line x1="85" y1="428.80" x2="92.40" y2="428.80"/>
<line x1="85" y1="398.44" x2="89.00" y2="398.44"/>
<line x1="85" y1="380.68" x2="89.00" y2="380.68"/>
<line x1="85" y1="368.08" x2="89.00" y2="368.08"/>
<line x1="85" y1="358.31" x2="89.00" y2="358.31"/>
<line x1="85" y1="350.32" x2="89.00" y2="350.32"/>
<line x1="85" y1="343.57" x2="89.00" y2="343.57"/>
<line x1="85" y1="337.72" x2="89.00" y2="337.72"/>
<line x1="85" y1="332.56" x2="89.00" y2="332.56"/>
<line x1="85" y1="529.65" x2="92.40" y2="529.65"/>
<line x1="85" y1="499.29" x2="89.00" y2="499.29"/>
<line x1="85" y1="481.53" x2="89.00" y2="481.53"/>
<line x1="85" y1="468.93" x2="89.00" y2="468.93"/>
<line x1="85" y1="459.16" x2="89.00" y2="459.16"/>
<line x1="85" y1="451.17" x2="89.00" y2="451.17"/>
<line x1="85" y1="444.42" x2="89.00" y2="444.42"/>
<line x1="85" y1="438.57" x2="89.00" y2="438.57"/>
<line x1="85" y1="433.41" x2="89.00" y2="433.41"/>
<line x1="85" y1="534.26" x2="89.00" y2="534.26"/>
<line x1="85" y1="539.42" x2="89.00" y2="539.42"/>
<line x1="85" y1="545.27" x2="89.00" y2="545.27"/>
<line x1="85" y1="552.02" x2="89.00" y2="552.02"/>
<line x1="85" y1="569.78" x2="89.00" y2="569.78"/>
</g>
<g font-family="Liberation Sans, sans-serif" fill="#000" stroke="#000" stroke-width="0.35">
<text x="114.97" y="583.30" font-size="21.5">−</text><text x="127.52" y="583.30" font-size="21.5">2</text><text x="139.48" y="583.30" font-size="21.5">0</text>
<text x="211.97" y="583.30" font-size="21.5">−</text><path transform="translate(224.52,583.30) scale(0.01050,-0.01050)" d="M763 0H583V1147Q518 1085 412.5 1023Q307 961 223 930V1104Q374 1175 487 1276Q600 1377 647 1472H763Z" stroke-width="33"/><text x="236.48" y="583.30" font-size="21.5">0</text>
<text x="321.52" y="583.30" font-size="21.5">0</text>
<path transform="translate(412.55,583.30) scale(0.01050,-0.01050)" d="M763 0H583V1147Q518 1085 412.5 1023Q307 961 223 930V1104Q374 1175 487 1276Q600 1377 647 1472H763Z" stroke-width="33"/><text x="424.50" y="583.30" font-size="21.5">0</text>
<text x="509.55" y="583.30" font-size="21.5">2</text><text x="521.50" y="583.30" font-size="21.5">0</text>
<text x="606.55" y="583.30" font-size="21.5">3</text><text x="618.50" y="583.30" font-size="21.5">0</text>
<text x="703.55" y="583.30" font-size="21.5">4</text><text x="715.50" y="583.30" font-size="21.5">0</text>
<text x="800.55" y="583.30" font-size="21.5">5</text><text x="812.50" y="583.30" font-size="21.5">0</text>
<path transform="translate(48.57,32.20) scale(0.01050,-0.01050)" d="M763 0H583V1147Q518 1085 412.5 1023Q307 961 223 930V1104Q374 1175 487 1276Q600 1377 647 1472H763Z" stroke-width="33"/><text x="60.53" y="32.20" font-size="21.5">0</text><text x="72.98" y="24.60" font-size="15.5">0</text>
<path transform="translate(39.52,133.05) scale(0.01050,-0.01050)" d="M763 0H583V1147Q518 1085 412.5 1023Q307 961 223 930V1104Q374 1175 487 1276Q600 1377 647 1472H763Z" stroke-width="33"/><text x="51.48" y="133.05" font-size="21.5">0</text><text x="63.93" y="125.45" font-size="15.5">−</text><path transform="translate(72.98,125.45) scale(0.00757,-0.00757)" d="M763 0H583V1147Q518 1085 412.5 1023Q307 961 223 930V1104Q374 1175 487 1276Q600 1377 647 1472H763Z" stroke-width="46"/>
<path transform="translate(39.52,233.90) scale(0.01050,-0.01050)" d="M763 0H583V1147Q518 1085 412.5 1023Q307 961 223 930V1104Q374 1175 487 1276Q600 1377 647 1472H763Z" stroke-width="33"/><text x="51.48" y="233.90" font-size="21.5">0</text><text x="63.93" y="226.30" font-size="15.5">−</text><text x="72.98" y="226.30" font-size="15.5">2</text>
<path transform="translate(39.52,334.75) scale(0.01050,-0.01050)" d="M763 0H583V1147Q518 1085 412.5 1023Q307 961 223 930V1104Q374 1175 487 1276Q600 1377 647 1472H763Z" stroke-width="33"/><text x="51.48" y="334.75" font-size="21.5">0</text><text x="63.93" y="327.15" font-size="15.5">−</text><text x="72.98" y="327.15" font-size="15.5">3</text>
<path transform="translate(39.52,435.60) scale(0.01050,-0.01050)" d="M763 0H583V1147Q518 1085 412.5 1023Q307 961 223 930V1104Q374 1175 487 1276Q600 1377 647 1472H763Z" stroke-width="33"/><text x="51.48" y="435.60" font-size="21.5">0</text><text x="63.93" y="428.00" font-size="15.5">−</text><text x="72.98" y="428.00" font-size="15.5">4</text>
<path transform="translate(39.52,536.45) scale(0.01050,-0.01050)" d="M763 0H583V1147Q518 1085 412.5 1023Q307 961 223 930V1104Q374 1175 487 1276Q600 1377 647 1472H763Z" stroke-width="33"/><text x="51.48" y="536.45" font-size="21.5">0</text><text x="63.93" y="528.85" font-size="15.5">−</text><text x="72.98" y="528.85" font-size="15.5">5</text>
</g>
<g font-family="Liberation Sans, sans-serif" font-size="22" fill="#000" stroke-width="0.3">
<line x1="632" y1="40.4" x2="709" y2="40.4" stroke="#0000ff" stroke-width="1.8"/>
<text x="720.8" y="45.0" stroke="#000"><tspan font-style="italic">N</tspan> = 0!</text>
<line x1="632" y1="77.8" x2="709" y2="77.8" stroke="#ff0000" stroke-width="1.8"/>
<text x="720.8" y="82.4" stroke="#000"><tspan font-style="italic">N</tspan> = </text>
<g stroke="#000"><path transform="translate(761.76,82.37) scale(0.01074,-0.01074)" d="M763 0H583V1147Q518 1085 412.5 1023Q307 961 223 930V1104Q374 1175 487 1276Q600 1377 647 1472H763Z" stroke-width="33"/><text x="774.00" y="82.4">!</text></g>
<line x1="632" y1="115.1" x2="709" y2="115.1" stroke="#00aa00" stroke-width="1.8"/>
<text x="720.8" y="119.7" stroke="#000"><tspan font-style="italic">N</tspan> = 2!</text>
<line x1="632" y1="152.5" x2="709" y2="152.5" stroke="#800080" stroke-width="1.8"/>
<text x="720.8" y="157.1" stroke="#000"><tspan font-style="italic">N</tspan> = 3!</text>
<line x1="632" y1="189.9" x2="709" y2="189.9" stroke="#ff8000" stroke-width="1.8"/>
<text x="720.8" y="194.5" stroke="#000"><tspan font-style="italic">N</tspan> = 4!</text>
<line x1="632" y1="227.2" x2="709" y2="227.2" stroke="#0000aa" stroke-width="1.8"/>
<text x="720.8" y="231.8" stroke="#000"><tspan font-style="italic">N</tspan> = 5!</text>
<line x1="632" y1="264.6" x2="709" y2="264.6" stroke="#00aaaa" stroke-width="1.8"/>
<text x="720.8" y="269.2" stroke="#000"><tspan font-style="italic">N</tspan> = 6!</text>
<line x1="632" y1="302.0" x2="709" y2="302.0" stroke="#000000" stroke-width="1.8"/>
<text x="720.8" y="306.6" stroke="#000"><tspan font-style="italic">N</tspan> = 7!</text>
<line x1="632" y1="339.4" x2="709" y2="339.4" stroke="#000000" stroke-width="1.8" stroke-dasharray="5.9 2.9"/>
<text x="720.8" y="344.0" stroke="#000"><tspan font-style="italic">N</tspan> = 7</text>
<line x1="632" y1="376.7" x2="709" y2="376.7" stroke="#ff0000" stroke-width="1.8" stroke-dasharray="5.9 2.9"/>
<text x="720.8" y="381.3" stroke="#000"><tspan font-style="italic">N</tspan> = 7</text>
<text x="773.4" y="390.3" font-size="27">*</text><text x="784.6" y="390.3" font-size="27">*</text>
</g>
<g font-family="Liberation Mono, monospace" fill="#000" stroke="#000" stroke-width="0.15">
<text transform="translate(360,610) scale(1,1.1)" font-size="24" font-style="italic">t</text>
<text x="376.2" y="613.9" font-size="17.7" font-family="Liberation Sans, sans-serif">i</text>
<line x1="386.8" y1="604.8" x2="397.2" y2="604.8" stroke="#000" stroke-width="1.2"/>
<text transform="translate(403,610) scale(1,1.1)" font-size="24" font-style="italic">t</text>
<text x="418.3" y="613.9" font-size="17.7">peak</text>
<text x="478.6" y="610.4" font-size="25" font-style="italic">M</text>
</g>
<path d="M472.5,594H469.3V615.2H472.5 M499.8,594H503V615.2H499.8" stroke="#555" stroke-width="1.1" fill="none"/>
<g fill="none" stroke="#000" stroke-linecap="round" stroke-linejoin="round">
<path d="M24.6,351.5Q19,343.5 4.8,337.4L19.4,335.8L23.4,337.8M19.4,335.8L4.4,320.1Q13,324.5 23.8,324.9" stroke-width="1.35"/>
<path d="M2.9,285.3Q16,295.5 29.5,285.3M2.9,252.4Q16,242 29.5,252.4" stroke="#444" stroke-width="1.2"/>
</g>
<text transform="translate(23.5,277.9) rotate(-90)" font-family="Liberation Mono, monospace" font-style="italic" font-size="31" fill="#000" stroke="#000" stroke-width="0.1">h</text>
</svg>
</body></html>
